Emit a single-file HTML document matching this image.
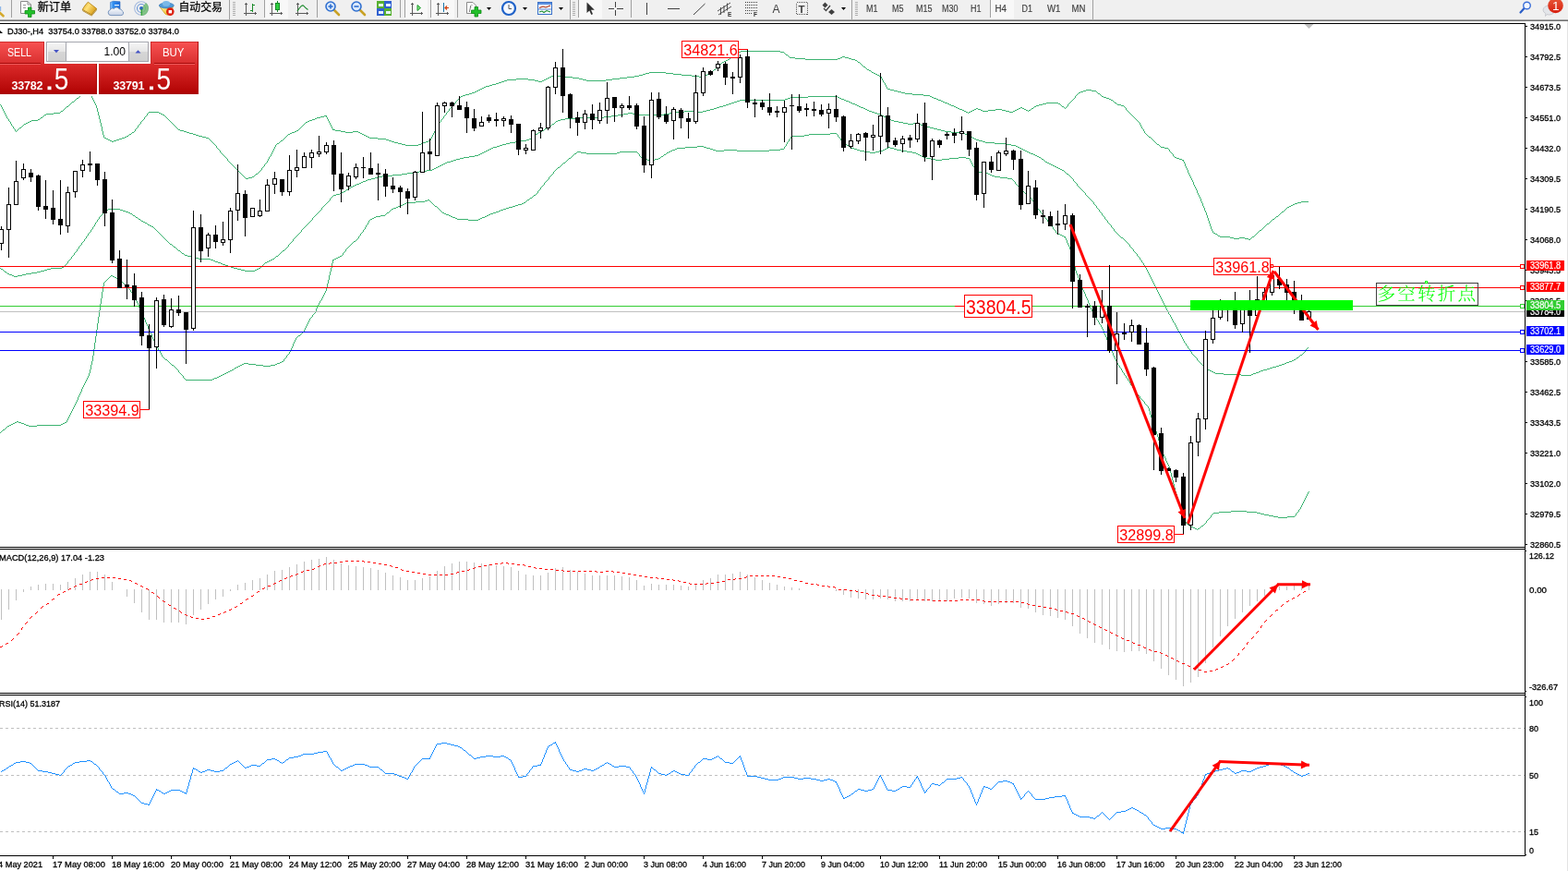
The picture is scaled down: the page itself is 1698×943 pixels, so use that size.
<!DOCTYPE html>
<html lang="zh"><head><meta charset="utf-8"><title>DJ30-,H4</title>
<style>
html,body{margin:0;padding:0;background:#fff;}
body{width:1698px;height:943px;overflow:hidden;position:relative;font-family:'Liberation Sans','Noto Sans CJK SC',sans-serif;}
#ch{position:absolute;left:0;top:0;width:1698px;height:943px;}
svg text{white-space:pre;}
</style></head><body>
<svg id="ch" width="1698" height="943" viewBox="0 0 1698 943">
<defs><clipPath id="cpb"><rect x="1653" y="336" width="41" height="7"/></clipPath></defs>
<g shape-rendering="crispEdges">
<rect x="0" y="0" width="1698" height="21" fill="#f0f0f0"/>
<rect x="0" y="21" width="1698" height="1" fill="#a6a6a6"/>
<rect x="0" y="22" width="1698" height="1" fill="#707070"/>
<rect x="0" y="23" width="1698" height="2" fill="#ffffff"/>
</g>
<rect x="287" y="0" width="25" height="20" fill="#f8f8f8" shape-rendering="crispEdges"/>
<rect x="438" y="0" width="25" height="20" fill="#f8f8f8" shape-rendering="crispEdges"/>
<rect x="467" y="0" width="25" height="20" fill="#f8f8f8" shape-rendering="crispEdges"/>
<rect x="627" y="0" width="25" height="20" fill="#f8f8f8" shape-rendering="crispEdges"/>
<rect x="1073" y="0" width="25" height="20" fill="#f8f8f8" shape-rendering="crispEdges"/>
<rect x="12" y="0" width="1" height="19" fill="#a0a0a0" shape-rendering="crispEdges"/>
<rect x="286" y="0" width="1" height="19" fill="#a0a0a0" shape-rendering="crispEdges"/>
<rect x="343" y="0" width="1" height="19" fill="#a0a0a0" shape-rendering="crispEdges"/>
<rect x="433" y="0" width="1" height="19" fill="#a0a0a0" shape-rendering="crispEdges"/>
<rect x="438" y="0" width="1" height="19" fill="#a0a0a0" shape-rendering="crispEdges"/>
<rect x="466" y="0" width="1" height="19" fill="#a0a0a0" shape-rendering="crispEdges"/>
<rect x="495" y="0" width="1" height="19" fill="#a0a0a0" shape-rendering="crispEdges"/>
<rect x="626" y="0" width="1" height="19" fill="#a0a0a0" shape-rendering="crispEdges"/>
<rect x="683" y="0" width="1" height="19" fill="#a0a0a0" shape-rendering="crispEdges"/>
<rect x="1072" y="0" width="1" height="19" fill="#a0a0a0" shape-rendering="crispEdges"/>
<rect x="248" y="0" width="1" height="21" fill="#a0a0a0" shape-rendering="crispEdges"/>
<rect x="617" y="0" width="1" height="21" fill="#a0a0a0" shape-rendering="crispEdges"/>
<rect x="922" y="0" width="1" height="21" fill="#a0a0a0" shape-rendering="crispEdges"/>
<rect x="1183" y="0" width="1" height="21" fill="#a0a0a0" shape-rendering="crispEdges"/>
<rect x="252" y="2" width="3" height="1" fill="#b0b0b0" shape-rendering="crispEdges"/>
<rect x="252" y="4" width="3" height="1" fill="#b0b0b0" shape-rendering="crispEdges"/>
<rect x="252" y="6" width="3" height="1" fill="#b0b0b0" shape-rendering="crispEdges"/>
<rect x="252" y="8" width="3" height="1" fill="#b0b0b0" shape-rendering="crispEdges"/>
<rect x="252" y="10" width="3" height="1" fill="#b0b0b0" shape-rendering="crispEdges"/>
<rect x="252" y="12" width="3" height="1" fill="#b0b0b0" shape-rendering="crispEdges"/>
<rect x="252" y="14" width="3" height="1" fill="#b0b0b0" shape-rendering="crispEdges"/>
<rect x="252" y="16" width="3" height="1" fill="#b0b0b0" shape-rendering="crispEdges"/>
<rect x="620" y="2" width="3" height="1" fill="#b0b0b0" shape-rendering="crispEdges"/>
<rect x="620" y="4" width="3" height="1" fill="#b0b0b0" shape-rendering="crispEdges"/>
<rect x="620" y="6" width="3" height="1" fill="#b0b0b0" shape-rendering="crispEdges"/>
<rect x="620" y="8" width="3" height="1" fill="#b0b0b0" shape-rendering="crispEdges"/>
<rect x="620" y="10" width="3" height="1" fill="#b0b0b0" shape-rendering="crispEdges"/>
<rect x="620" y="12" width="3" height="1" fill="#b0b0b0" shape-rendering="crispEdges"/>
<rect x="620" y="14" width="3" height="1" fill="#b0b0b0" shape-rendering="crispEdges"/>
<rect x="620" y="16" width="3" height="1" fill="#b0b0b0" shape-rendering="crispEdges"/>
<rect x="926" y="2" width="3" height="1" fill="#b0b0b0" shape-rendering="crispEdges"/>
<rect x="926" y="4" width="3" height="1" fill="#b0b0b0" shape-rendering="crispEdges"/>
<rect x="926" y="6" width="3" height="1" fill="#b0b0b0" shape-rendering="crispEdges"/>
<rect x="926" y="8" width="3" height="1" fill="#b0b0b0" shape-rendering="crispEdges"/>
<rect x="926" y="10" width="3" height="1" fill="#b0b0b0" shape-rendering="crispEdges"/>
<rect x="926" y="12" width="3" height="1" fill="#b0b0b0" shape-rendering="crispEdges"/>
<rect x="926" y="14" width="3" height="1" fill="#b0b0b0" shape-rendering="crispEdges"/>
<rect x="926" y="16" width="3" height="1" fill="#b0b0b0" shape-rendering="crispEdges"/>
<line x1="-1" y1="13" x2="3.5" y2="17.3" stroke="#d4a92c" stroke-width="2.6" stroke-linecap="round"/>
<rect x="0" y="7" width="1.2" height="5" fill="#8fb8ea"/>
<path d="M22.5 1.5 L30 1.5 L33.5 5 L33.5 14.5 L22.5 14.5 Z" fill="#fdfdfd" stroke="#8a8a8a" stroke-width="1"/>
<path d="M30 1.5 L30 5 L33.5 5" fill="none" stroke="#8a8a8a" stroke-width="1"/>
<path d="M25 5.5 H28 M25 8.5 H28" stroke="#9a9a9a" stroke-width="1"/>
<path d="M30.5 8 h3.5 v3.5 h3.5 v3.5 h-3.5 v3.5 h-3.5 v-3.5 h-3.5 v-3.5 h3.5 Z" fill="#22c02a" stroke="#0d8a14" stroke-width="0.8"/>
<text x="40.7" y="12.3" font-size="12.3" style="font-family:'Liberation Sans','Noto Sans CJK SC',sans-serif" fill="#000" stroke="#000" stroke-width="0.25" textLength="36.5" lengthAdjust="spacingAndGlyphs">新订单</text>
<defs><linearGradient id="gbk" x1="0" y1="0" x2="1" y2="0.6"><stop offset="0" stop-color="#d9a21c"/><stop offset="0.45" stop-color="#ffe27a"/><stop offset="1" stop-color="#d79a14"/></linearGradient></defs>
<path d="M89.3 10.3 Q91.5 6 95.3 2.2 L104.6 9.3 L99 16 Z" fill="url(#gbk)" stroke="#b07c0a" stroke-width="0.8"/>
<path d="M89.3 10.3 L99 16 L104.6 9.3 L104.8 11 L99.2 17.6 L89.6 12 Z" fill="#9a6a08"/>
<path d="M90 11.3 L99.1 16.8 L104.4 10.3" fill="none" stroke="#f4dc90" stroke-width="0.6"/>
<defs><linearGradient id="gsv" x1="0" y1="0" x2="1" y2="0"><stop offset="0" stop-color="#8cc8ff"/><stop offset="0.3" stop-color="#2f8cf0"/><stop offset="1" stop-color="#1e6ad8"/></linearGradient>
<linearGradient id="gcl" x1="0" y1="0" x2="0" y2="1"><stop offset="0" stop-color="#ffffff"/><stop offset="1" stop-color="#c4d0e4"/></linearGradient></defs>
<path d="M119.5 2.5 L122.5 1.3 L130 1.8 L130 10.5 L119.5 10.5 Z" fill="url(#gsv)" stroke="#2a6ac0" stroke-width="0.6"/>
<rect x="124" y="5" width="5" height="1.2" fill="#e8f4ff"/>
<path d="M120 16.6 a3 3 0 0 1 -0.6 -5.9 a2.6 2.6 0 0 1 4 -1.2 a3.4 3.4 0 0 1 5.8 0.4 a2.6 2.6 0 0 1 3 1.8 a2.6 2.6 0 0 1 -1.4 4.9 Z" fill="url(#gcl)" stroke="#6e8cb8" stroke-width="0.9"/>
<circle cx="153" cy="9" r="7.3" fill="none" stroke="#a4bade" stroke-width="1.1"/>
<circle cx="153" cy="9" r="4.5" fill="none" stroke="#6a96d8" stroke-width="1.1"/>
<path d="M153 9 L153 16.9 A7.9 7.9 0 0 0 158 2.9 Z" fill="#6cba6c" opacity="0.8"/>
<circle cx="153" cy="9" r="1.9" fill="#2a62c8"/>
<rect x="152.6" y="9.5" width="1.2" height="7.2" fill="#28a028"/>
<defs><linearGradient id="gat" x1="0" y1="0" x2="1" y2="1"><stop offset="0" stop-color="#fff6a0"/><stop offset="1" stop-color="#e8b010"/></linearGradient></defs>
<path d="M173.2 7.5 L187.5 7.5 L181.5 16.3 L179 15.2 Z" fill="url(#gat)" stroke="#c8980c" stroke-width="0.7"/>
<ellipse cx="180.3" cy="6" rx="8" ry="2.9" fill="#4f9ad8" stroke="#3a78b8" stroke-width="0.7"/>
<ellipse cx="180" cy="3.9" rx="4.2" ry="2.9" fill="#7ab8e8"/>
<circle cx="184.3" cy="12.6" r="4.3" fill="#dc2010"/>
<rect x="182.6" y="11" width="3.5" height="3.4" fill="#fff"/>
<text x="193.5" y="12.3" font-size="12.3" style="font-family:'Liberation Sans','Noto Sans CJK SC',sans-serif" fill="#000" stroke="#000" stroke-width="0.25" textLength="47.5" lengthAdjust="spacingAndGlyphs">自动交易</text>
<g fill="#5a5a5a" shape-rendering="crispEdges">
<rect x="266" y="3" width="1" height="14"/>
<rect x="264" y="14" width="14" height="1"/>
<rect x="265" y="4" width="3" height="1"/>
<rect x="276" y="13" width="1" height="3"/>
</g>
<g shape-rendering="crispEdges" fill="#1a8a2a"><rect x="273" y="4" width="1" height="9"/><rect x="271" y="11" width="2" height="1"/><rect x="274" y="5" width="2" height="1"/></g>
<g fill="#5a5a5a" shape-rendering="crispEdges">
<rect x="294" y="3" width="1" height="14"/>
<rect x="292" y="14" width="14" height="1"/>
<rect x="293" y="4" width="3" height="1"/>
<rect x="304" y="13" width="1" height="3"/>
</g>
<line x1="300.5" y1="1" x2="300.5" y2="13" stroke="#1a8a2a" stroke-width="1"/>
<rect x="298.5" y="3.5" width="4" height="7" fill="#30d040" stroke="#1a8a2a" stroke-width="1"/>
<g fill="#5a5a5a" shape-rendering="crispEdges">
<rect x="322" y="3" width="1" height="14"/>
<rect x="320" y="14" width="14" height="1"/>
<rect x="321" y="4" width="3" height="1"/>
<rect x="332" y="13" width="1" height="3"/>
</g>
<path d="M322 12 Q327 4 329 6.5 T333.5 10.5" stroke="#1a8a2a" stroke-width="1.2" fill="none"/>
<line x1="361.5" y1="10.5" x2="367" y2="16" stroke="#c9a227" stroke-width="2.6" stroke-linecap="round"/>
<circle cx="358" cy="7" r="5" fill="#dbeafc" stroke="#2f6fd0" stroke-width="1.6"/>
<line x1="355.5" y1="7" x2="360.5" y2="7" stroke="#2f6fd0" stroke-width="1.6"/>
<line x1="358" y1="4.5" x2="358" y2="9.5" stroke="#2f6fd0" stroke-width="1.6"/>
<line x1="389.5" y1="10.5" x2="395" y2="16" stroke="#c9a227" stroke-width="2.6" stroke-linecap="round"/>
<circle cx="386" cy="7" r="5" fill="#dbeafc" stroke="#2f6fd0" stroke-width="1.6"/>
<line x1="383.5" y1="7" x2="388.5" y2="7" stroke="#2f6fd0" stroke-width="1.6"/>
<g shape-rendering="crispEdges">
<rect x="408" y="1" width="8" height="8" fill="#58b030"/><rect x="416" y="1" width="8" height="8" fill="#3060d0"/>
<rect x="408" y="9" width="8" height="8" fill="#3060d0"/><rect x="416" y="9" width="8" height="8" fill="#58b030"/>
<rect x="410" y="4" width="5" height="3" fill="#e8f4ff"/>
<rect x="418" y="4" width="5" height="3" fill="#e8f4ff"/>
<rect x="410" y="12" width="5" height="3" fill="#e8f4ff"/>
<rect x="418" y="12" width="5" height="3" fill="#e8f4ff"/>
</g>
<g fill="#5a5a5a" shape-rendering="crispEdges">
<rect x="446" y="3" width="1" height="14"/>
<rect x="444" y="14" width="14" height="1"/>
<rect x="445" y="4" width="3" height="1"/>
<rect x="456" y="13" width="1" height="3"/>
</g>
<path d="M452 5.5 L455.5 8.5 L452 11.5 Z" fill="#80e080" stroke="#1a9a2a" stroke-width="1"/>
<g fill="#5a5a5a" shape-rendering="crispEdges">
<rect x="474" y="3" width="1" height="14"/>
<rect x="472" y="14" width="14" height="1"/>
<rect x="473" y="4" width="3" height="1"/>
<rect x="484" y="13" width="1" height="3"/>
</g>
<rect x="480" y="3" width="1" height="10" fill="#1874a8" shape-rendering="crispEdges"/>
<path d="M486 8.5 H482 M484 6.5 L482 8.5 L484 10.5" stroke="#d04010" stroke-width="1.2" fill="none"/>
<path d="M505.5 2.5 L512 2.5 L515.5 6 L515.5 14.5 L505.5 14.5 Z" fill="#fdfdfd" stroke="#8a8a8a"/>
<text x="508" y="11" font-size="9" font-style="italic" style="font-family:'Liberation Serif',serif" fill="#555">f</text>
<path d="M514 7.5 h3.5 v3.5 h3.5 v3.5 h-3.5 v3.5 h-3.5 v-3.5 h-3.5 v-3.5 h3.5 Z" fill="#22c02a" stroke="#0d8a14" stroke-width="0.8"/>
<path d="M527 8 L532 8 L529.5 11 Z" fill="#000"/>
<circle cx="551" cy="9" r="7" fill="#f4f8ff" stroke="#1f62c8" stroke-width="2.2"/>
<path d="M551 5 V9.5 H554" stroke="#555" stroke-width="1" fill="none"/>
<path d="M566 8 L571 8 L568.5 11 Z" fill="#000"/>
<rect x="582.5" y="2.5" width="15" height="13" fill="#f4f8ff" stroke="#3a70c8" stroke-width="1"/>
<rect x="583" y="3" width="14" height="2" fill="#5a90e0"/>
<path d="M584 8.5 L588 7 L591 8 L596 6" stroke="#b03010" stroke-width="1.1" fill="none"/>
<path d="M584 13 L587 12 L589 13.5 L592 11.5 L596 13" stroke="#209030" stroke-width="1.1" fill="none"/>
<line x1="583" y1="10" x2="597" y2="10" stroke="#3a70c8" stroke-width="0.8"/>
<path d="M605 8 L610 8 L607.5 11 Z" fill="#000"/>
<path d="M635.5 2.5 L635.5 14 L638.3 11.5 L640.3 16 L642 15.2 L640 10.8 L643.8 10.8 Z" fill="#303030"/>
<g shape-rendering="crispEdges" fill="#404040"><rect x="666" y="2" width="1" height="6"/><rect x="666" y="11" width="1" height="6"/><rect x="659" y="9" width="6" height="1"/><rect x="668" y="9" width="7" height="1"/></g>
<g shape-rendering="crispEdges" fill="#404040"><rect x="700" y="3" width="1" height="13"/><rect x="723" y="9" width="13" height="1"/></g>
<line x1="751" y1="16" x2="763.5" y2="4" stroke="#404040" stroke-width="1"/>
<path d="M777 12 L791 3 M778 16 L792 7 M780.5 8 V16 M784 6 V14 M787.5 3.5 V11.5" stroke="#404040" stroke-width="0.9" fill="none"/>
<text x="788" y="18" font-size="6.5" font-weight="bold" style="font-family:'Liberation Sans','Noto Sans CJK SC',sans-serif" fill="#303030">E</text>
<line x1="806.5" y1="2.5" x2="819.5" y2="2.5" stroke="#404040" stroke-width="1" stroke-dasharray="1 1" shape-rendering="crispEdges"/>
<line x1="806.5" y1="5.5" x2="819.5" y2="5.5" stroke="#404040" stroke-width="1" stroke-dasharray="1 1" shape-rendering="crispEdges"/>
<line x1="806.5" y1="8.5" x2="819.5" y2="8.5" stroke="#404040" stroke-width="1" stroke-dasharray="1 1" shape-rendering="crispEdges"/>
<line x1="806.5" y1="11.5" x2="819.5" y2="11.5" stroke="#404040" stroke-width="1" stroke-dasharray="1 1" shape-rendering="crispEdges"/>
<line x1="806.5" y1="14.5" x2="815" y2="14.5" stroke="#404040" stroke-width="1" stroke-dasharray="1 1" shape-rendering="crispEdges"/>
<text x="816" y="18" font-size="6.5" font-weight="bold" style="font-family:'Liberation Sans','Noto Sans CJK SC',sans-serif" fill="#303030">F</text>
<text x="836.5" y="13.5" font-size="12" style="font-family:'Liberation Sans','Noto Sans CJK SC',sans-serif" fill="#404040">A</text>
<rect x="862.5" y="2.5" width="12" height="13" fill="none" stroke="#505050" stroke-width="1" stroke-dasharray="1 1" shape-rendering="crispEdges"/>
<text x="864.5" y="13.5" font-size="11.5" font-weight="bold" style="font-family:'Liberation Sans','Noto Sans CJK SC',sans-serif" fill="#404040">T</text>
<path d="M893.5 2.5 L896.5 5.5 L893.5 8.5 L890.5 5.5 Z M900.5 10 L904 13 L900.5 16 L897 13 Z" fill="#404040"/>
<path d="M892 9 L894.5 11.5 L899 6" stroke="#404040" stroke-width="1.2" fill="none"/>
<path d="M911 8 L916 8 L913.5 11 Z" fill="#000"/>
<g style="font-family:'Liberation Sans','Noto Sans CJK SC',sans-serif" font-size="10" fill="#404040" stroke="#404040" stroke-width="0.15">
<text x="938" y="12.8" textLength="12.5" lengthAdjust="spacingAndGlyphs">M1</text>
<text x="966" y="12.8" textLength="12.5" lengthAdjust="spacingAndGlyphs">M5</text>
<text x="992" y="12.8" textLength="17.5" lengthAdjust="spacingAndGlyphs">M15</text>
<text x="1020" y="12.8" textLength="17.5" lengthAdjust="spacingAndGlyphs">M30</text>
<text x="1051" y="12.8" textLength="11.5" lengthAdjust="spacingAndGlyphs">H1</text>
<text x="1077.5" y="12.8" textLength="12.5" lengthAdjust="spacingAndGlyphs">H4</text>
<text x="1106.5" y="12.8" textLength="11.5" lengthAdjust="spacingAndGlyphs">D1</text>
<text x="1134" y="12.8" textLength="14.5" lengthAdjust="spacingAndGlyphs">W1</text>
<text x="1160.5" y="12.8" textLength="15" lengthAdjust="spacingAndGlyphs">MN</text>
</g>
<line x1="1646.5" y1="13.5" x2="1651" y2="8.5" stroke="#2a5ec8" stroke-width="2.2" stroke-linecap="round"/>
<circle cx="1653.5" cy="6" r="3.8" fill="#f4f8ff" stroke="#3a6ed8" stroke-width="1.4"/>
<path d="M1671 11 a6.5 5 0 1 1 4 4.6 L1673.5 17.5 L1673.8 14.6 a6 5 0 0 1 -2.8 -3.6 Z" fill="#e4e6ea" stroke="#c0c2c8" stroke-width="0.8"/>
<defs><linearGradient id="gr" x1="0" y1="0" x2="0" y2="1"><stop offset="0" stop-color="#e85838"/><stop offset="1" stop-color="#d82010"/></linearGradient></defs>
<circle cx="1684.5" cy="6" r="8.3" fill="url(#gr)"/>
<text x="1681" y="11" font-size="13.5" style="font-family:'Liberation Sans','Noto Sans CJK SC',sans-serif" fill="#fff">1</text>
<g shape-rendering="crispEdges">
<rect x="0" y="25" width="1652" height="1" fill="#000"/>
<rect x="1651" y="25" width="1" height="902" fill="#000"/>
<rect x="0" y="592" width="1652" height="1" fill="#000"/>
<rect x="0" y="594" width="1652" height="1" fill="#000"/>
<rect x="0" y="750" width="1652" height="1" fill="#000"/>
<rect x="0" y="752" width="1652" height="1" fill="#000"/>
<rect x="0" y="926" width="1652" height="1" fill="#000"/>
<rect x="1652" y="596" width="1" height="1" fill="#000"/>
<rect x="1652" y="748" width="1" height="1" fill="#000"/>
<rect x="1652" y="754" width="1" height="1" fill="#000"/>
<rect x="1652" y="925" width="1" height="1" fill="#000"/>
<rect x="1697" y="23" width="1" height="920" fill="#e3e3e3"/>
</g>
<g shape-rendering="crispEdges" fill="#c0c0c0">
<rect x="1" y="638" width="1" height="33"/>
<rect x="9" y="638" width="1" height="22"/>
<rect x="17" y="638" width="1" height="12"/>
<rect x="25" y="638" width="1" height="3"/>
<rect x="33" y="635" width="1" height="4"/>
<rect x="41" y="633" width="1" height="6"/>
<rect x="49" y="632" width="1" height="7"/>
<rect x="57" y="632" width="1" height="7"/>
<rect x="65" y="633" width="1" height="6"/>
<rect x="73" y="630" width="1" height="9"/>
<rect x="81" y="626" width="1" height="13"/>
<rect x="89" y="622" width="1" height="17"/>
<rect x="97" y="619" width="1" height="20"/>
<rect x="105" y="619" width="1" height="20"/>
<rect x="113" y="622" width="1" height="17"/>
<rect x="121" y="630" width="1" height="9"/>
<rect x="137" y="638" width="1" height="8"/>
<rect x="145" y="638" width="1" height="15"/>
<rect x="153" y="638" width="1" height="25"/>
<rect x="161" y="638" width="1" height="33"/>
<rect x="169" y="638" width="1" height="33"/>
<rect x="177" y="638" width="1" height="36"/>
<rect x="185" y="638" width="1" height="36"/>
<rect x="193" y="638" width="1" height="36"/>
<rect x="201" y="638" width="1" height="38"/>
<rect x="209" y="638" width="1" height="28"/>
<rect x="217" y="638" width="1" height="22"/>
<rect x="225" y="638" width="1" height="16"/>
<rect x="233" y="638" width="1" height="11"/>
<rect x="241" y="638" width="1" height="8"/>
<rect x="249" y="638" width="1" height="2"/>
<rect x="257" y="633" width="1" height="6"/>
<rect x="265" y="631" width="1" height="8"/>
<rect x="273" y="628" width="1" height="11"/>
<rect x="281" y="626" width="1" height="13"/>
<rect x="289" y="622" width="1" height="17"/>
<rect x="297" y="618" width="1" height="21"/>
<rect x="305" y="617" width="1" height="22"/>
<rect x="313" y="614" width="1" height="25"/>
<rect x="321" y="611" width="1" height="28"/>
<rect x="329" y="608" width="1" height="31"/>
<rect x="337" y="606" width="1" height="33"/>
<rect x="345" y="605" width="1" height="34"/>
<rect x="353" y="603" width="1" height="36"/>
<rect x="361" y="606" width="1" height="33"/>
<rect x="369" y="610" width="1" height="29"/>
<rect x="377" y="612" width="1" height="27"/>
<rect x="385" y="613" width="1" height="26"/>
<rect x="393" y="614" width="1" height="25"/>
<rect x="401" y="615" width="1" height="24"/>
<rect x="409" y="617" width="1" height="22"/>
<rect x="417" y="620" width="1" height="19"/>
<rect x="425" y="623" width="1" height="16"/>
<rect x="433" y="625" width="1" height="14"/>
<rect x="441" y="628" width="1" height="11"/>
<rect x="449" y="628" width="1" height="11"/>
<rect x="457" y="626" width="1" height="13"/>
<rect x="465" y="624" width="1" height="15"/>
<rect x="473" y="618" width="1" height="21"/>
<rect x="481" y="613" width="1" height="26"/>
<rect x="489" y="610" width="1" height="29"/>
<rect x="497" y="608" width="1" height="31"/>
<rect x="505" y="608" width="1" height="31"/>
<rect x="513" y="609" width="1" height="30"/>
<rect x="521" y="610" width="1" height="29"/>
<rect x="529" y="611" width="1" height="28"/>
<rect x="537" y="612" width="1" height="27"/>
<rect x="545" y="613" width="1" height="26"/>
<rect x="553" y="614" width="1" height="25"/>
<rect x="561" y="618" width="1" height="21"/>
<rect x="569" y="622" width="1" height="17"/>
<rect x="577" y="623" width="1" height="16"/>
<rect x="585" y="623" width="1" height="16"/>
<rect x="593" y="620" width="1" height="19"/>
<rect x="601" y="615" width="1" height="24"/>
<rect x="609" y="614" width="1" height="25"/>
<rect x="617" y="617" width="1" height="22"/>
<rect x="625" y="619" width="1" height="20"/>
<rect x="633" y="621" width="1" height="18"/>
<rect x="641" y="623" width="1" height="16"/>
<rect x="649" y="623" width="1" height="16"/>
<rect x="657" y="623" width="1" height="16"/>
<rect x="665" y="623" width="1" height="16"/>
<rect x="673" y="624" width="1" height="15"/>
<rect x="681" y="625" width="1" height="14"/>
<rect x="689" y="628" width="1" height="11"/>
<rect x="697" y="634" width="1" height="5"/>
<rect x="705" y="632" width="1" height="7"/>
<rect x="713" y="633" width="1" height="6"/>
<rect x="721" y="633" width="1" height="6"/>
<rect x="729" y="633" width="1" height="6"/>
<rect x="737" y="634" width="1" height="5"/>
<rect x="745" y="635" width="1" height="4"/>
<rect x="753" y="632" width="1" height="7"/>
<rect x="761" y="628" width="1" height="11"/>
<rect x="769" y="626" width="1" height="13"/>
<rect x="777" y="622" width="1" height="17"/>
<rect x="785" y="622" width="1" height="17"/>
<rect x="793" y="621" width="1" height="18"/>
<rect x="801" y="619" width="1" height="20"/>
<rect x="809" y="622" width="1" height="17"/>
<rect x="817" y="625" width="1" height="14"/>
<rect x="825" y="628" width="1" height="11"/>
<rect x="833" y="631" width="1" height="8"/>
<rect x="841" y="633" width="1" height="6"/>
<rect x="849" y="635" width="1" height="4"/>
<rect x="857" y="636" width="1" height="3"/>
<rect x="865" y="637" width="1" height="2"/>
<rect x="905" y="638" width="1" height="2"/>
<rect x="913" y="638" width="1" height="6"/>
<rect x="921" y="638" width="1" height="9"/>
<rect x="929" y="638" width="1" height="10"/>
<rect x="937" y="638" width="1" height="11"/>
<rect x="945" y="638" width="1" height="11"/>
<rect x="953" y="638" width="1" height="10"/>
<rect x="961" y="638" width="1" height="11"/>
<rect x="969" y="638" width="1" height="13"/>
<rect x="977" y="638" width="1" height="13"/>
<rect x="985" y="638" width="1" height="13"/>
<rect x="993" y="638" width="1" height="11"/>
<rect x="1001" y="638" width="1" height="13"/>
<rect x="1009" y="638" width="1" height="13"/>
<rect x="1017" y="638" width="1" height="13"/>
<rect x="1025" y="638" width="1" height="13"/>
<rect x="1033" y="638" width="1" height="10"/>
<rect x="1041" y="638" width="1" height="9"/>
<rect x="1049" y="638" width="1" height="10"/>
<rect x="1057" y="638" width="1" height="15"/>
<rect x="1065" y="638" width="1" height="16"/>
<rect x="1073" y="638" width="1" height="18"/>
<rect x="1081" y="638" width="1" height="16"/>
<rect x="1089" y="638" width="1" height="15"/>
<rect x="1097" y="638" width="1" height="15"/>
<rect x="1105" y="638" width="1" height="20"/>
<rect x="1113" y="638" width="1" height="21"/>
<rect x="1121" y="638" width="1" height="25"/>
<rect x="1129" y="638" width="1" height="28"/>
<rect x="1137" y="638" width="1" height="29"/>
<rect x="1145" y="638" width="1" height="31"/>
<rect x="1153" y="638" width="1" height="33"/>
<rect x="1161" y="638" width="1" height="40"/>
<rect x="1169" y="638" width="1" height="48"/>
<rect x="1177" y="638" width="1" height="53"/>
<rect x="1185" y="638" width="1" height="58"/>
<rect x="1193" y="638" width="1" height="60"/>
<rect x="1201" y="638" width="1" height="65"/>
<rect x="1209" y="638" width="1" height="67"/>
<rect x="1217" y="638" width="1" height="68"/>
<rect x="1225" y="638" width="1" height="67"/>
<rect x="1233" y="638" width="1" height="67"/>
<rect x="1241" y="638" width="1" height="70"/>
<rect x="1249" y="638" width="1" height="78"/>
<rect x="1257" y="638" width="1" height="86"/>
<rect x="1265" y="638" width="1" height="93"/>
<rect x="1273" y="638" width="1" height="98"/>
<rect x="1281" y="638" width="1" height="105"/>
<rect x="1289" y="638" width="1" height="101"/>
<rect x="1297" y="638" width="1" height="95"/>
<rect x="1305" y="638" width="1" height="80"/>
<rect x="1313" y="638" width="1" height="63"/>
<rect x="1321" y="638" width="1" height="51"/>
<rect x="1329" y="638" width="1" height="40"/>
<rect x="1337" y="638" width="1" height="32"/>
<rect x="1345" y="638" width="1" height="25"/>
<rect x="1353" y="638" width="1" height="18"/>
<rect x="1361" y="638" width="1" height="13"/>
<rect x="1369" y="638" width="1" height="7"/>
<rect x="1377" y="638" width="1" height="2"/>
<rect x="1385" y="635" width="1" height="4"/>
<rect x="1393" y="635" width="1" height="4"/>
<rect x="1401" y="634" width="1" height="5"/>
<rect x="1409" y="633" width="1" height="6"/>
<rect x="1417" y="632" width="1" height="7"/>
</g>
<path d="M944 644h3v1h-3zM1304 727h3v1h-3zM1106 652h3v1h-3zM81 634h2v1h-2zM152 634h2v1h-2zM290 634h3v1h-3zM890 634h3v1h-3zM452 620h3v1h-3zM674 620h3v1h-3zM315 623h2v1h-2zM692 623h3v1h-3zM812 623h3v1h-3zM818 623h3v1h-3zM824 623h3v1h-3zM830 623h3v1h-3zM836 623h3v1h-3zM735 629h2v1h-2zM782 629h3v1h-3zM866 629h3v1h-3zM183 655h2v1h-2zM1118 655h3v1h-3zM272 645h2v1h-2zM951 645h2v1h-2zM956 645h3v1h-3zM254 657h2v1h-2zM1130 657h3v1h-3zM920 639h3v1h-3zM188 658h2v1h-2zM1136 658h3v1h-3zM326 619h2v1h-2zM446 619h3v1h-3zM495 619h2v1h-2zM650 619h3v1h-3zM668 619h3v1h-3zM110 625h3v1h-3zM116 625h3v1h-3zM122 625h3v1h-3zM704 625h3v1h-3zM710 625h2v1h-2zM806 625h2v1h-2zM848 625h3v1h-3zM1215 691h2v1h-2zM368 608h3v1h-3zM398 608h3v1h-3zM440 618h3v1h-3zM500 618h3v1h-3zM614 618h3v1h-3zM620 618h3v1h-3zM626 618h3v1h-3zM632 618h3v1h-3zM638 618h3v1h-3zM644 618h2v1h-2zM656 618h3v1h-3zM662 618h2v1h-2zM962 646h3v1h-3zM75 637h2v1h-2zM158 637h2v1h-2zM284 637h2v1h-2zM1142 659h2v1h-2zM86 632h3v1h-3zM747 632h2v1h-2zM752 632h3v1h-3zM758 632h3v1h-3zM878 632h3v1h-3zM1010 650h3v1h-3zM1016 650h3v1h-3zM1022 650h3v1h-3zM1028 650h3v1h-3zM1034 650h3v1h-3zM1064 650h2v1h-2zM374 607h3v1h-3zM380 607h3v1h-3zM386 607h3v1h-3zM392 607h2v1h-2zM332 617h3v1h-3zM435 617h2v1h-2zM506 617h2v1h-2zM602 617h3v1h-3zM608 617h2v1h-2zM1310 726h3v1h-3zM422 612h2v1h-2zM524 612h3v1h-3zM1203 685h2v1h-2zM1232 698h3v1h-3zM1292 723h3v1h-3zM428 614h3v1h-3zM578 614h2v1h-2zM177 651h2v1h-2zM1070 651h3v1h-3zM1076 651h3v1h-3zM1082 651h3v1h-3zM1088 651h3v1h-3zM1094 651h3v1h-3zM1100 651h3v1h-3zM1393 651h2v1h-2zM968 647h3v1h-3zM1400 647h2v1h-2zM357 609h2v1h-2zM362 609h3v1h-3zM404 609h3v1h-3zM543 609h2v1h-2zM548 609h2v1h-2zM416 611h3v1h-3zM530 611h3v1h-3zM560 611h3v1h-3zM566 611h2v1h-2zM1322 722h2v1h-2zM212 669h3v1h-3zM224 669h3v1h-3zM1172 669h2v1h-2zM104 626h3v1h-3zM128 626h3v1h-3zM308 626h2v1h-2zM716 626h3v1h-3zM800 626h3v1h-3zM854 626h3v1h-3zM986 649h3v1h-3zM992 649h3v1h-3zM998 649h3v1h-3zM1004 649h3v1h-3zM1040 649h3v1h-3zM1046 649h3v1h-3zM1052 649h3v1h-3zM1058 649h3v1h-3zM57 648h2v1h-2zM267 648h2v1h-2zM975 648h2v1h-2zM980 648h3v1h-3zM938 642h2v1h-2zM512 615h2v1h-2zM584 615h3v1h-3zM164 641h2v1h-2zM932 641h3v1h-3zM99 627h2v1h-2zM134 627h3v1h-3zM722 627h3v1h-3zM788 627h3v1h-3zM794 627h2v1h-2zM321 621h2v1h-2zM458 621h3v1h-3zM488 621h3v1h-3zM680 621h3v1h-3zM1220 693h3v1h-3zM140 628h2v1h-2zM303 628h2v1h-2zM729 628h2v1h-2zM860 628h3v1h-3zM248 660h2v1h-2zM1382 660h2v1h-2zM1191 679h2v1h-2zM344 613h2v1h-2zM518 613h3v1h-3zM572 613h3v1h-3zM230 667h3v1h-3zM1167 667h2v1h-2zM1113 654h2v1h-2zM464 622h3v1h-3zM470 622h3v1h-3zM476 622h3v1h-3zM482 622h3v1h-3zM686 622h3v1h-3zM1239 701h2v1h-2zM1179 673h2v1h-2zM1244 703h2v1h-2zM1124 656h3v1h-3zM698 624h3v1h-3zM842 624h3v1h-3zM63 643h2v1h-2zM146 631h2v1h-2zM297 631h2v1h-2zM765 631h2v1h-2zM770 631h3v1h-3zM872 631h3v1h-3zM1160 664h3v1h-3zM338 616h2v1h-2zM590 616h3v1h-3zM596 616h3v1h-3zM200 665h2v1h-2zM236 665h2v1h-2zM351 610h2v1h-2zM410 610h3v1h-3zM536 610h3v1h-3zM554 610h3v1h-3zM1250 705h3v1h-3zM908 638h3v1h-3zM914 638h3v1h-3zM218 670h3v1h-3zM897 635h2v1h-2zM902 635h2v1h-2zM69 640h2v1h-2zM279 640h2v1h-2zM927 640h2v1h-2zM1412 640h2v1h-2zM1262 709h2v1h-2zM51 653h2v1h-2zM260 653h2v1h-2zM7 696h2v1h-2zM1227 696h2v1h-2zM1287 721h2v1h-2zM1257 707h2v1h-2zM243 662h2v1h-2zM1154 662h2v1h-2zM1148 661h3v1h-3zM207 668h2v1h-2zM1268 712h2v1h-2zM1280 718h3v1h-3zM1274 715h2v1h-2zM1298 725h3v1h-3zM92 630h2v1h-2zM740 630h3v1h-3zM776 630h3v1h-3zM1209 688h2v1h-2zM1317 724h2v1h-2zM1197 682h2v1h-2zM1185 676h2v1h-2zM0 700h2v1h-2zM1328 719h2v1h-2zM885 633h2v1h-2zM950 644h1v1h-1zM45 657h1v1h-1zM1365 678h1v2h-1zM262 652h1v1h-1zM328 618h1v1h-1zM808 624h1v1h-1zM1214 690h1v1h-1zM494 620h1v1h-1zM20 685h1v1h-1zM23 680h1v2h-1zM1350 696h1v2h-1zM274 644h1v1h-1zM1389 654h1v1h-1zM1178 672h1v1h-1zM1345 703h1v1h-1zM1112 653h1v1h-1zM171 646h1v1h-1zM190 659h1v1h-1zM1202 684h1v1h-1zM728 627h1v1h-1zM1388 655h1v1h-1zM646 619h1v1h-1zM1341 707h1v2h-1zM6 697h1v1h-1zM206 667h1v1h-1zM40 662h1v1h-1zM542 610h1v1h-1zM1381 661h1v1h-1zM1411 641h1v1h-1zM2 699h1v1h-1zM1190 678h1v1h-1zM14 691h1v1h-1zM166 642h1v1h-1zM1406 644h1v1h-1zM884 632h1v1h-1zM1324 721h1v1h-1zM1226 695h1v1h-1zM1066 651h1v1h-1zM310 625h1v1h-1zM346 612h1v1h-1zM1330 718h1v1h-1zM514 614h1v1h-1zM1336 713h1v1h-1zM1351 695h1v1h-1zM1196 681h1v1h-1zM266 649h1v1h-1zM195 662h1v1h-1zM1369 673h1v1h-1zM424 613h1v1h-1zM1334 715h1v1h-1zM1335 714h1v1h-1zM250 659h1v1h-1zM278 641h1v1h-1zM24 679h1v1h-1zM148 632h1v1h-1zM98 628h1v1h-1zM1366 677h1v1h-1zM256 656h1v1h-1zM394 608h1v1h-1zM286 636h1v1h-1zM734 628h1v1h-1zM320 622h1v1h-1zM196 663h1v1h-1zM350 611h1v1h-1zM1184 675h1v1h-1zM56 649h1v1h-1zM39 663h1v1h-1zM1208 687h1v1h-1zM34 667h1v1h-1zM182 654h1v1h-1zM1387 656h1v1h-1zM1144 660h1v1h-1zM68 641h1v1h-1zM1407 643h1v1h-1zM1399 648h1v1h-1zM32 669h1v1h-1zM33 668h1v1h-1zM796 626h1v1h-1zM1405 645h1v1h-1zM356 610h1v1h-1zM508 616h1v1h-1zM1347 701h1v1h-1zM29 673h1v1h-1zM1370 672h1v1h-1zM1377 665h1v1h-1zM1270 713h1v1h-1zM664 619h1v1h-1zM610 618h1v1h-1zM27 675h1v1h-1zM568 612h1v1h-1zM28 674h1v1h-1zM1156 663h1v1h-1zM1375 667h1v1h-1zM1376 666h1v1h-1zM1276 716h1v1h-1zM62 644h1v1h-1zM172 647h1v1h-1zM904 636h1v1h-1zM314 624h1v1h-1zM202 666h1v1h-1zM340 615h1v1h-1zM50 654h1v1h-1zM176 650h1v1h-1zM1264 710h1v1h-1zM1246 704h1v1h-1zM1238 700h1v1h-1zM38 664h1v1h-1zM1395 650h1v1h-1zM940 643h1v1h-1zM238 664h1v1h-1zM746 631h1v1h-1zM74 638h1v1h-1zM1346 702h1v1h-1zM974 647h1v1h-1zM13 692h1v1h-1zM712 626h1v1h-1zM142 629h1v1h-1zM170 645h1v1h-1zM44 658h1v1h-1zM296 632h1v1h-1zM1362 683h1v1h-1zM12 693h1v1h-1zM302 629h1v1h-1zM19 686h1v1h-1zM80 635h1v1h-1zM1360 685h1v1h-1zM1361 684h1v1h-1zM1316 725h1v1h-1zM18 687h1v1h-1zM1356 690h1v1h-1zM1357 689h1v1h-1zM242 663h1v1h-1zM1286 720h1v1h-1zM926 639h1v1h-1zM1355 691h1v1h-1zM764 632h1v1h-1zM1340 709h1v1h-1zM1166 666h1v1h-1zM1256 706h1v1h-1zM434 616h1v1h-1zM154 635h1v1h-1zM580 615h1v1h-1zM896 634h1v1h-1zM46 656h1v1h-1zM1174 670h1v1h-1zM1371 671h1v1h-1zM94 629h1v1h-1zM550 610h1v1h-1zM194 661h1v1h-1zM160 638h1v1h-1z" fill="#ff0000" shape-rendering="crispEdges"/>
<g shape-rendering="crispEdges">
<line x1="0" y1="788.5" x2="1651" y2="788.5" stroke="#c0c0c0" stroke-width="1" stroke-dasharray="3 3"/>
<line x1="0" y1="839.5" x2="1651" y2="839.5" stroke="#c0c0c0" stroke-width="1" stroke-dasharray="3 3"/>
<line x1="0" y1="900.5" x2="1651" y2="900.5" stroke="#c0c0c0" stroke-width="1" stroke-dasharray="3 3"/>
</g>
<path d="M102 827h2v1h-2zM249 827h2v1h-2zM384 827h11v1h-11zM660 827h2v1h-2zM1374 827h2v1h-2zM1382 827h5v1h-5zM52 836h4v1h-4zM217 836h2v1h-2zM733 836h2v1h-2zM1310 836h2v1h-2zM1339 836h3v1h-3zM1401 836h2v1h-2zM46 835h6v1h-6zM215 835h2v1h-2zM219 835h3v1h-3zM232 835h6v1h-6zM624 835h3v1h-3zM727 835h2v1h-2zM731 835h2v1h-2zM1312 835h4v1h-4zM1334 835h2v1h-2zM1342 835h2v1h-2zM1350 835h5v1h-5zM432 840h3v1h-3zM566 840h4v1h-4zM809 840h11v1h-11zM952 840h2v1h-2zM1409 840h2v1h-2zM60 838h4v1h-4zM427 838h3v1h-3zM716 838h4v1h-4zM722 838h2v1h-2zM737 838h5v1h-5zM1305 838h2v1h-2zM1405 838h2v1h-2zM1414 838h2v1h-2zM323 818h3v1h-3zM526 818h8v1h-8zM542 818h4v1h-4zM294 821h4v1h-4zM457 821h9v1h-9zM513 821h3v1h-3zM761 821h5v1h-5zM771 821h2v1h-2zM780 821h2v1h-2zM438 842h2v1h-2zM824 842h4v1h-4zM846 842h2v1h-2zM860 842h4v1h-4zM870 842h8v1h-8zM1036 842h4v1h-4zM169 855h3v1h-3zM185 855h10v1h-10zM932 855h4v1h-4zM940 855h4v1h-4zM961 855h5v1h-5zM970 855h2v1h-2zM122 854h2v1h-2zM929 854h3v1h-3zM944 854h2v1h-2zM972 854h2v1h-2zM1072 854h2v1h-2zM10 829h2v1h-2zM74 829h2v1h-2zM270 829h2v1h-2zM278 829h4v1h-4zM379 829h3v1h-3zM398 829h2v1h-2zM577 829h5v1h-5zM650 829h2v1h-2zM663 829h2v1h-2zM670 829h8v1h-8zM1368 829h3v1h-3zM1390 829h2v1h-2zM1276 899h2v1h-2zM209 832h3v1h-3zM373 832h2v1h-2zM632 832h4v1h-4zM645 832h2v1h-2zM1324 832h4v1h-4zM1330 832h2v1h-2zM1359 832h2v1h-2zM917 862h2v1h-2zM1142 862h8v1h-8zM440 843h2v1h-2zM828 843h4v1h-4zM843 843h3v1h-3zM864 843h6v1h-6zM878 843h6v1h-6zM896 843h3v1h-3zM1025 843h11v1h-11zM1167 883h2v1h-2zM1188 883h2v1h-2zM15 826h2v1h-2zM32 826h2v1h-2zM79 826h2v1h-2zM251 826h2v1h-2zM284 826h2v1h-2zM655 826h2v1h-2zM658 826h2v1h-2zM790 826h4v1h-4zM1376 826h6v1h-6zM1009 848h3v1h-3zM1096 848h2v1h-2zM2 834h2v1h-2zM41 834h5v1h-5zM222 834h2v1h-2zM228 834h4v1h-4zM238 834h4v1h-4zM369 834h2v1h-2zM620 834h4v1h-4zM627 834h3v1h-3zM640 834h3v1h-3zM729 834h2v1h-2zM1316 834h4v1h-4zM1344 834h6v1h-6zM1355 834h2v1h-2zM1398 834h2v1h-2zM289 822h5v1h-5zM298 822h2v1h-2zM310 822h2v1h-2zM551 822h2v1h-2zM766 822h5v1h-5zM22 824h6v1h-6zM86 824h8v1h-8zM98 824h2v1h-2zM255 824h2v1h-2zM328 816h12v1h-12zM832 844h11v1h-11zM884 844h4v1h-4zM892 844h4v1h-4zM899 844h3v1h-3zM267 830h3v1h-3zM364 830h2v1h-2zM377 830h2v1h-2zM400 830h10v1h-10zM665 830h5v1h-5zM678 830h4v1h-4zM1364 830h4v1h-4zM1392 830h2v1h-2zM1209 879h5v1h-5zM1234 879h2v1h-2zM126 857h2v1h-2zM181 857h2v1h-2zM197 857h2v1h-2zM1001 857h2v1h-2zM913 864h2v1h-2zM1105 864h2v1h-2zM1132 864h4v1h-4zM350 813h4v1h-4zM318 819h5v1h-5zM520 819h6v1h-6zM534 819h8v1h-8zM546 819h2v1h-2zM775 819h2v1h-2zM800 819h2v1h-2zM12 828h2v1h-2zM76 828h2v1h-2zM272 828h6v1h-6zM382 828h2v1h-2zM395 828h3v1h-3zM582 828h4v1h-4zM652 828h2v1h-2zM1371 828h3v1h-3zM1387 828h3v1h-3zM492 807h4v1h-4zM594 807h2v1h-2zM64 839h2v1h-2zM430 839h2v1h-2zM720 839h2v1h-2zM742 839h4v1h-4zM1407 839h2v1h-2zM1411 839h3v1h-3zM1214 878h5v1h-5zM435 841h3v1h-3zM561 841h5v1h-5zM820 841h4v1h-4zM848 841h12v1h-12zM992 841h2v1h-2zM1040 841h2v1h-2zM4 833h2v1h-2zM212 833h2v1h-2zM224 833h4v1h-4zM371 833h2v1h-2zM412 833h2v1h-2zM617 833h3v1h-3zM630 833h2v1h-2zM636 833h4v1h-4zM643 833h2v1h-2zM708 833h2v1h-2zM1320 833h4v1h-4zM1357 833h2v1h-2zM144 861h2v1h-2zM919 861h2v1h-2zM1150 861h4v1h-4zM156 870h4v1h-4zM1223 875h2v1h-2zM1227 875h2v1h-2zM134 858h5v1h-5zM175 858h2v1h-2zM179 858h2v1h-2zM199 858h3v1h-3zM915 863h2v1h-2zM1136 863h6v1h-6zM172 856h2v1h-2zM183 856h2v1h-2zM195 856h2v1h-2zM926 856h2v1h-2zM936 856h4v1h-4zM966 856h4v1h-4zM975 852h2v1h-2zM982 852h4v1h-4zM1067 852h3v1h-3zM1253 895h2v1h-2zM340 815h4v1h-4zM496 808h2v1h-2zM313 820h5v1h-5zM516 820h4v1h-4zM548 820h2v1h-2zM773 820h2v1h-2zM1251 894h2v1h-2zM1169 884h11v1h-11zM129 859h5v1h-5zM139 859h3v1h-3zM177 859h2v1h-2zM922 859h2v1h-2zM1279 901h3v1h-3zM1257 897h5v1h-5zM1270 897h4v1h-4zM904 846h2v1h-2zM1081 846h5v1h-5zM1091 846h3v1h-3zM17 825h5v1h-5zM28 825h4v1h-4zM81 825h5v1h-5zM253 825h2v1h-2zM303 825h2v1h-2zM306 825h2v1h-2zM756 825h2v1h-2zM785 825h5v1h-5zM94 823h4v1h-4zM300 823h2v1h-2zM56 837h4v1h-4zM417 837h10v1h-10zM713 837h3v1h-3zM724 837h2v1h-2zM735 837h2v1h-2zM1307 837h3v1h-3zM1337 837h2v1h-2zM1403 837h2v1h-2zM1416 837h2v1h-2zM326 817h2v1h-2zM508 817h2v1h-2zM888 845h4v1h-4zM902 845h2v1h-2zM1086 845h5v1h-5zM7 831h2v1h-2zM244 831h2v1h-2zM265 831h2v1h-2zM375 831h2v1h-2zM647 831h2v1h-2zM705 831h2v1h-2zM1328 831h2v1h-2zM1361 831h3v1h-3zM1394 831h2v1h-2zM1274 898h2v1h-2zM1121 865h11v1h-11zM344 814h6v1h-6zM1225 874h2v1h-2zM488 806h4v1h-4zM596 806h2v1h-2zM142 860h2v1h-2zM153 869h3v1h-3zM1249 893h2v1h-2zM498 809h2v1h-2zM1020 847h2v1h-2zM1094 847h2v1h-2zM473 805h5v1h-5zM484 805h4v1h-4zM1012 849h4v1h-4zM502 812h2v1h-2zM1161 880h2v1h-2zM1236 880h2v1h-2zM977 851h5v1h-5zM1065 851h2v1h-2zM1070 853h2v1h-2zM1016 850h2v1h-2zM1221 876h2v1h-2zM1229 876h2v1h-2zM1180 885h4v1h-4zM478 804h6v1h-6zM599 804h3v1h-3zM1165 882h2v1h-2zM1239 882h2v1h-2zM1255 896h2v1h-2zM1262 896h8v1h-8zM1163 881h2v1h-2zM1184 886h2v1h-2zM1219 877h2v1h-2zM1231 877h2v1h-2zM160 871h2v1h-2zM359 823h1v2h-1zM576 830h1v2h-1zM261 827h1v1h-1zM607 816h1v2h-1zM116 844h1v2h-1zM986 850h1v2h-1zM997 848h1v3h-1zM443 839h1v2h-1zM989 846h1v1h-1zM1061 860h1v3h-1zM758 824h1v1h-1zM78 827h1v1h-1zM455 823h1v1h-1zM592 810h1v2h-1zM120 851h1v2h-1zM998 851h1v2h-1zM1247 890h1v2h-1zM161 870h1v1h-1zM561 840h1v1h-1zM925 857h1v1h-1zM697 858h1v2h-1zM1157 870h1v2h-1zM553 823h1v2h-1zM1024 844h1v1h-1zM1285 884h1v4h-1zM1111 858h1v1h-1zM1205 883h1v1h-1zM808 836h1v3h-1zM466 818h1v2h-1zM1053 860h1v3h-1zM203 851h1v3h-1zM447 832h1v2h-1zM119 849h1v2h-1zM614 828h1v2h-1zM363 829h1v1h-1zM1000 855h1v2h-1zM689 841h1v2h-1zM906 848h1v2h-1zM112 838h1v1h-1zM1043 843h1v2h-1zM115 842h1v2h-1zM1284 888h1v4h-1zM610 822h1v2h-1zM804 825h1v3h-1zM470 810h1v2h-1zM504 813h1v1h-1zM1159 875h1v2h-1zM796 823h1v1h-1zM207 837h1v3h-1zM705 830h1v1h-1zM1080 847h1v1h-1zM588 820h1v2h-1zM1005 853h1v1h-1zM1008 849h1v1h-1zM955 843h1v2h-1zM557 831h1v3h-1zM36 829h1v1h-1zM696 856h1v2h-1zM1396 832h1v1h-1zM591 812h1v3h-1zM778 819h1v1h-1zM1156 867h1v3h-1zM248 828h1v1h-1zM9 830h1v1h-1zM1293 865h1v1h-1zM948 848h1v2h-1zM1305 839h1v1h-1zM206 840h1v4h-1zM572 836h1v1h-1zM575 832h1v1h-1zM450 828h1v1h-1zM587 822h1v3h-1zM442 841h1v2h-1zM283 827h1v1h-1zM682 831h1v2h-1zM66 838h1v1h-1zM118 847h1v2h-1zM613 827h1v1h-1zM287 824h1v1h-1zM747 836h1v1h-1zM1304 840h1v3h-1zM750 832h1v1h-1zM111 836h1v2h-1zM1042 842h1v1h-1zM560 838h1v2h-1zM202 854h1v4h-1zM606 814h1v2h-1zM1098 850h1v2h-1zM446 834h1v2h-1zM1197 883h1v1h-1zM1283 892h1v4h-1zM164 864h1v2h-1zM1296 861h1v1h-1zM777 818h1v1h-1zM954 841h1v2h-1zM1288 872h1v4h-1zM912 861h1v2h-1zM704 832h1v4h-1zM988 847h1v2h-1zM1060 863h1v2h-1zM913 863h1v1h-1zM69 834h1v2h-1zM214 834h1v1h-1zM500 810h1v1h-1zM1075 852h1v1h-1zM469 812h1v2h-1zM152 868h1v1h-1zM104 828h1v1h-1zM616 831h1v2h-1zM165 862h1v2h-1zM753 828h1v1h-1zM114 840h1v2h-1zM609 820h1v2h-1zM703 836h1v4h-1zM700 847h1v3h-1zM1300 851h1v3h-1zM559 836h1v2h-1zM1113 856h1v1h-1zM590 815h1v2h-1zM996 846h1v2h-1zM654 827h1v1h-1zM924 858h1v1h-1zM465 820h1v1h-1zM1114 857h1v1h-1zM695 854h1v2h-1zM803 823h1v2h-1zM1158 872h1v3h-1zM699 850h1v4h-1zM711 835h1v1h-1zM201 859h1v1h-1zM598 805h1v1h-1zM1291 867h1v2h-1zM1287 876h1v4h-1zM760 822h1v1h-1zM612 825h1v2h-1zM1052 858h1v2h-1zM121 853h1v1h-1zM783 823h1v1h-1zM949 846h1v2h-1zM615 830h1v1h-1zM605 811h1v3h-1zM262 828h1v1h-1zM1241 883h1v1h-1zM608 818h1v2h-1zM784 824h1v1h-1zM795 824h1v1h-1zM209 831h1v1h-1zM305 826h1v1h-1zM73 830h1v1h-1zM263 829h1v1h-1zM1079 848h1v1h-1zM1242 884h1v1h-1zM1045 846h1v1h-1zM558 834h1v2h-1zM452 826h1v1h-1zM243 832h1v1h-1zM586 825h1v2h-1zM995 844h1v2h-1zM506 815h1v1h-1zM1207 881h1v1h-1zM1059 865h1v3h-1zM68 836h1v1h-1zM1204 884h1v1h-1zM100 825h1v1h-1zM710 834h1v1h-1zM510 818h1v1h-1zM1282 896h1v4h-1zM749 833h1v2h-1zM911 859h1v2h-1zM991 843h1v1h-1zM1105 865h1v1h-1zM589 817h1v3h-1zM798 821h1v1h-1zM282 828h1v1h-1zM1278 900h1v1h-1zM1058 868h1v2h-1zM809 839h1v1h-1zM1007 850h1v2h-1zM117 846h1v1h-1zM107 831h1v2h-1zM1051 855h1v3h-1zM205 844h1v3h-1zM698 854h1v4h-1zM204 847h1v4h-1zM113 839h1v1h-1zM1044 845h1v1h-1zM1295 862h1v2h-1zM1187 884h1v1h-1zM805 828h1v3h-1zM707 832h1v1h-1zM1233 878h1v1h-1zM1286 880h1v4h-1zM1191 881h1v1h-1zM574 833h1v1h-1zM1290 869h1v1h-1zM37 830h1v1h-1zM147 863h1v1h-1zM1397 833h1v1h-1zM802 820h1v3h-1zM779 820h1v1h-1zM987 849h1v1h-1zM694 852h1v2h-1zM1303 843h1v2h-1zM1154 863h1v2h-1zM38 831h1v1h-1zM471 808h1v2h-1zM1104 862h1v2h-1zM208 833h1v4h-1zM106 830h1v1h-1zM505 814h1v1h-1zM1101 856h1v2h-1zM1302 845h1v3h-1zM1333 834h1v1h-1zM550 821h1v1h-1zM1198 884h1v1h-1zM1336 836h1v1h-1zM1281 900h1v1h-1zM1281 902h1v1h-1zM247 829h1v1h-1zM604 809h1v2h-1zM71 832h1v1h-1zM1077 850h1v1h-1zM994 842h1v2h-1zM1199 885h1v1h-1zM456 822h1v1h-1zM146 862h1v1h-1zM752 829h1v2h-1zM1116 859h1v1h-1zM701 843h1v4h-1zM755 826h1v1h-1zM1074 853h1v1h-1zM693 849h1v3h-1zM910 857h1v2h-1zM1055 865h1v3h-1zM1202 886h1v1h-1zM14 827h1v1h-1zM683 833h1v1h-1zM128 858h1v1h-1zM360 825h1v2h-1zM258 824h1v1h-1zM1112 857h1v1h-1zM952 841h1v1h-1zM1243 885h1v2h-1zM573 834h1v2h-1zM960 853h1v2h-1zM657 825h1v1h-1zM649 830h1v1h-1zM1298 856h1v3h-1zM1047 848h1v2h-1zM1244 887h1v1h-1zM702 840h1v3h-1zM1190 882h1v1h-1zM603 807h1v2h-1zM169 854h1v1h-1zM1301 848h1v3h-1zM1115 858h1v1h-1zM990 844h1v2h-1zM759 823h1v1h-1zM101 826h1v1h-1zM593 808h1v2h-1zM511 819h1v1h-1zM257 823h1v1h-1zM6 832h1v1h-1zM909 854h1v3h-1zM501 811h1v1h-1zM712 836h1v1h-1zM554 825h1v2h-1zM512 820h1v1h-1zM105 829h1v1h-1zM807 834h1v2h-1zM1153 862h1v1h-1zM356 818h1v2h-1zM454 824h1v1h-1zM690 843h1v2h-1zM168 856h1v2h-1zM1103 860h1v2h-1zM1332 833h1v1h-1zM1289 870h1v2h-1zM1100 854h1v2h-1zM947 850h1v2h-1zM264 830h1v1h-1zM1206 882h1v1h-1zM1050 853h1v2h-1zM686 837h1v1h-1zM1065 852h1v1h-1zM1001 858h1v1h-1zM959 851h1v2h-1zM928 855h1v1h-1zM1046 847h1v1h-1zM1107 863h1v1h-1zM1160 877h1v2h-1zM1110 859h1v1h-1zM1057 870h1v2h-1zM746 837h1v2h-1zM797 822h1v1h-1zM1155 865h1v2h-1zM40 833h1v1h-1zM1004 854h1v1h-1zM1193 879h1v1h-1zM108 833h1v1h-1zM451 827h1v1h-1zM1099 852h1v2h-1zM1194 880h1v1h-1zM1049 851h1v2h-1zM1019 848h1v1h-1zM1186 885h1v1h-1zM507 816h1v1h-1zM70 833h1v1h-1zM571 837h1v1h-1zM1023 845h1v1h-1zM1117 860h1v2h-1zM449 829h1v1h-1zM1200 886h1v1h-1zM556 829h1v2h-1zM1056 868h1v2h-1zM993 840h1v1h-1zM39 832h1v1h-1zM1118 862h1v1h-1zM951 842h1v2h-1zM1201 887h1v1h-1zM302 824h1v1h-1zM692 847h1v2h-1zM286 825h1v1h-1zM974 853h1v1h-1zM1102 858h1v2h-1zM149 865h1v1h-1zM1238 881h1v1h-1zM685 835h1v2h-1zM445 836h1v1h-1zM309 823h1v1h-1zM163 866h1v2h-1zM355 816h1v2h-1zM958 849h1v2h-1zM1292 866h1v1h-1zM260 826h1v1h-1zM1076 851h1v1h-1zM366 831h1v1h-1zM754 827h1v1h-1zM602 805h1v2h-1zM468 814h1v2h-1zM1246 889h1v1h-1zM148 864h1v1h-1zM946 852h1v2h-1zM1208 880h1v1h-1zM1064 853h1v2h-1zM415 835h1v1h-1zM691 845h1v2h-1zM806 831h1v3h-1zM908 852h1v2h-1zM1109 860h1v2h-1zM358 821h1v2h-1zM684 834h1v1h-1zM570 838h1v2h-1zM726 836h1v1h-1zM799 820h1v1h-1zM362 828h1v1h-1zM999 853h1v2h-1zM1063 855h1v3h-1zM905 847h1v1h-1zM957 847h1v2h-1zM992 842h1v1h-1zM950 844h1v2h-1zM1245 888h1v1h-1zM555 827h1v2h-1zM167 858h1v2h-1zM1299 854h1v2h-1zM1003 855h1v2h-1zM414 834h1v1h-1zM35 828h1v1h-1zM453 825h1v1h-1zM1 835h1v1h-1zM662 828h1v1h-1zM361 827h1v1h-1zM259 825h1v1h-1zM907 850h1v2h-1zM354 814h1v2h-1zM174 857h1v1h-1zM448 830h1v2h-1zM688 839h1v2h-1zM357 820h1v1h-1zM472 806h1v2h-1zM1018 849h1v1h-1zM1048 850h1v1h-1zM410 831h1v1h-1zM411 832h1v1h-1zM1196 882h1v1h-1zM444 837h1v2h-1zM162 868h1v2h-1zM125 856h1v1h-1zM1006 852h1v1h-1zM72 831h1v1h-1zM601 803h1v1h-1zM1120 864h1v1h-1zM1192 880h1v1h-1zM308 824h1v1h-1zM467 816h1v2h-1zM1195 881h1v1h-1zM151 867h1v1h-1zM687 838h1v1h-1zM312 821h1v1h-1zM585 827h1v1h-1zM110 835h1v1h-1zM1022 846h1v1h-1zM1097 849h1v1h-1zM166 860h1v2h-1zM124 855h1v1h-1zM1203 885h1v1h-1zM1161 879h1v1h-1zM956 845h1v2h-1zM288 823h1v1h-1zM34 827h1v1h-1zM748 835h1v1h-1zM1248 892h1v1h-1zM1062 858h1v2h-1zM1294 864h1v1h-1zM794 825h1v1h-1zM1297 859h1v2h-1zM1054 863h1v2h-1zM1078 849h1v1h-1zM1108 862h1v1h-1zM242 833h1v1h-1zM109 834h1v1h-1zM246 830h1v1h-1zM611 824h1v1h-1zM67 837h1v1h-1zM751 831h1v1h-1zM367 832h1v1h-1zM921 860h1v1h-1zM1119 863h1v1h-1zM368 833h1v1h-1zM953 839h1v1h-1zM801 818h1v1h-1zM150 866h1v1h-1zM416 836h1v1h-1zM1400 835h1v1h-1zM782 822h1v1h-1z" fill="#1e90ff" shape-rendering="crispEdges"/>
<path d="M347 126h4v1h-4zM595 83h2v1h-2zM611 83h9v1h-9zM679 83h8v1h-8zM757 83h4v1h-4zM802 55h43v1h-43zM44 127h2v1h-2zM343 127h4v1h-4zM1257 159h4v1h-4zM1277 172h3v1h-3zM1336 258h6v1h-6zM1348 258h4v1h-4zM199 142h3v1h-3zM319 142h2v1h-2zM369 142h5v1h-5zM382 142h6v1h-6zM195 141h4v1h-4zM321 141h2v1h-2zM363 141h6v1h-6zM1261 160h4v1h-4zM1409 218h8v1h-8zM1280 173h2v1h-2zM435 156h4v1h-4zM453 156h3v1h-3zM1253 156h2v1h-2zM121 153h2v1h-2zM424 153h3v1h-3zM461 153h3v1h-3zM546 87h3v1h-3zM579 87h4v1h-4zM587 87h2v1h-2zM635 87h21v1h-21zM212 146h3v1h-3zM394 146h2v1h-2zM788 64h2v1h-2zM872 64h35v1h-35zM922 64h4v1h-4zM26 134h2v1h-2zM1314 252h2v1h-2zM499 104h2v1h-2zM1007 104h2v1h-2zM1193 104h2v1h-2zM83 106h2v1h-2zM1011 106h3v1h-3zM1198 106h3v1h-3zM791 62h2v1h-2zM855 62h6v1h-6zM910 62h2v1h-2zM915 62h4v1h-4zM34 130h7v1h-7zM335 130h3v1h-3zM703 78h18v1h-18zM769 78h2v1h-2zM944 78h2v1h-2zM514 99h2v1h-2zM972 99h4v1h-4zM1170 99h3v1h-3zM135 148h2v1h-2zM219 148h4v1h-4zM398 148h2v1h-2zM1244 148h2v1h-2zM205 144h4v1h-4zM314 144h2v1h-2zM390 144h2v1h-2zM95 101h2v1h-2zM508 101h3v1h-3zM980 101h8v1h-8zM1189 101h2v1h-2zM66 120h2v1h-2zM1044 120h2v1h-2zM1051 120h2v1h-2zM1064 120h6v1h-6zM1089 120h4v1h-4zM1097 120h2v1h-2zM597 82h2v1h-2zM603 82h8v1h-8zM687 82h5v1h-5zM749 82h8v1h-8zM761 82h3v1h-3zM952 82h2v1h-2zM549 86h10v1h-10zM572 86h7v1h-7zM589 86h2v1h-2zM631 86h4v1h-4zM656 86h7v1h-7zM1014 107h2v1h-2zM1201 107h2v1h-2zM1009 105h2v1h-2zM1195 105h3v1h-3zM599 81h4v1h-4zM692 81h4v1h-4zM738 81h11v1h-11zM764 81h2v1h-2zM950 81h2v1h-2zM48 124h2v1h-2zM176 124h2v1h-2zM1028 113h2v1h-2zM1125 113h4v1h-4zM1210 113h4v1h-4zM559 85h13v1h-13zM591 85h2v1h-2zM627 85h4v1h-4zM663 85h8v1h-8zM78 110h2v1h-2zM1021 110h2v1h-2zM511 100h3v1h-3zM976 100h4v1h-4zM1168 100h2v1h-2zM699 79h4v1h-4zM721 79h8v1h-8zM946 79h2v1h-2zM1023 111h3v1h-3zM1133 111h13v1h-13zM1207 111h2v1h-2zM1321 256h11v1h-11zM1356 256h2v1h-2zM593 84h2v1h-2zM620 84h7v1h-7zM671 84h8v1h-8zM113 149h2v1h-2zM132 149h3v1h-3zM223 149h3v1h-3zM400 149h9v1h-9zM140 145h2v1h-2zM209 145h3v1h-3zM312 145h2v1h-2zM392 145h2v1h-2zM1042 119h2v1h-2zM1053 119h2v1h-2zM1062 119h2v1h-2zM1070 119h8v1h-8zM1085 119h4v1h-4zM1099 119h2v1h-2zM1111 119h2v1h-2zM1114 119h2v1h-2zM28 133h2v1h-2zM41 129h2v1h-2zM338 129h3v1h-3zM341 128h2v1h-2zM516 98h2v1h-2zM968 98h4v1h-4zM1173 98h3v1h-3zM1182 98h5v1h-5zM117 151h2v1h-2zM126 151h3v1h-3zM418 151h3v1h-3zM161 121h11v1h-11zM1046 121h2v1h-2zM1049 121h2v1h-2zM1093 121h4v1h-4zM115 150h2v1h-2zM129 150h3v1h-3zM409 150h9v1h-9zM32 131h2v1h-2zM333 131h2v1h-2zM269 192h4v1h-4zM277 188h2v1h-2zM300 155h2v1h-2zM431 155h4v1h-4zM456 155h2v1h-2zM786 65h2v1h-2zM926 65h2v1h-2zM912 61h3v1h-3zM1039 118h3v1h-3zM1055 118h2v1h-2zM1059 118h3v1h-3zM1078 118h7v1h-7zM1101 118h2v1h-2zM1109 118h2v1h-2zM504 102h4v1h-4zM988 102h12v1h-12zM543 88h3v1h-3zM583 88h4v1h-4zM1332 257h4v1h-4zM1342 257h6v1h-6zM50 123h8v1h-8zM174 123h2v1h-2zM1030 114h3v1h-3zM1122 114h3v1h-3zM1214 114h3v1h-3zM119 152h2v1h-2zM123 152h3v1h-3zM304 152h2v1h-2zM421 152h3v1h-3zM464 152h2v1h-2zM1026 112h2v1h-2zM1129 112h4v1h-4zM1146 112h2v1h-2zM794 60h2v1h-2zM351 125h3v1h-3zM1319 255h2v1h-2zM1016 108h3v1h-3zM1203 108h2v1h-2zM518 97h2v1h-2zM964 97h4v1h-4zM1176 97h6v1h-6zM861 63h11v1h-11zM907 63h3v1h-3zM919 63h3v1h-3zM193 140h2v1h-2zM360 140h3v1h-3zM1019 109h2v1h-2zM1398 222h2v1h-2zM935 72h2v1h-2zM537 90h3v1h-3zM439 157h14v1h-14zM21 138h2v1h-2zM72 115h2v1h-2zM1033 115h2v1h-2zM1120 115h2v1h-2zM1150 115h2v1h-2zM1378 237h2v1h-2zM1035 116h2v1h-2zM1105 116h2v1h-2zM784 66h2v1h-2zM58 122h7v1h-7zM172 122h2v1h-2zM1274 171h3v1h-3zM273 191h2v1h-2zM526 93h4v1h-4zM1316 253h2v1h-2zM533 91h4v1h-4zM1382 234h2v1h-2zM143 143h2v1h-2zM202 143h3v1h-3zM316 143h3v1h-3zM374 143h8v1h-8zM388 143h2v1h-2zM782 67h2v1h-2zM929 67h2v1h-2zM1394 224h2v1h-2zM851 59h2v1h-2zM1037 117h2v1h-2zM1057 117h2v1h-2zM1103 117h2v1h-2zM1107 117h2v1h-2zM1117 117h2v1h-2zM427 154h4v1h-4zM458 154h3v1h-3zM501 103h3v1h-3zM1000 103h7v1h-7zM137 147h2v1h-2zM215 147h4v1h-4zM396 147h2v1h-2zM1272 170h2v1h-2zM524 94h2v1h-2zM1400 221h2v1h-2zM266 193h3v1h-3zM540 89h3v1h-3zM520 96h2v1h-2zM961 96h3v1h-3zM1352 259h2v1h-2zM30 132h2v1h-2zM331 132h2v1h-2zM1372 242h2v1h-2zM1396 223h2v1h-2zM800 56h2v1h-2zM845 56h4v1h-4zM1388 229h2v1h-2zM773 75h2v1h-2zM939 75h2v1h-2zM1405 219h4v1h-4zM696 80h3v1h-3zM729 80h9v1h-9zM766 80h2v1h-2zM948 80h2v1h-2zM522 95h2v1h-2zM530 92h3v1h-3zM941 76h2v1h-2zM797 58h2v1h-2zM1402 220h3v1h-3zM1364 249h2v1h-2zM1227 126h1v1h-1zM295 163h1v2h-1zM1228 127h1v1h-1zM246 172h1v2h-1zM776 73h1v1h-1zM1293 200h1v2h-1zM1283 177h1v3h-1zM110 137h1v5h-1zM1311 245h1v3h-1zM1234 133h1v2h-1zM1242 146h1v1h-1zM291 170h1v2h-1zM1294 202h1v2h-1zM357 133h1v2h-1zM1219 117h1v2h-1zM99 104h1v2h-1zM234 158h1v2h-1zM107 125h1v4h-1zM182 129h1v1h-1zM253 180h1v1h-1zM958 90h1v2h-1zM1300 215h1v3h-1zM498 105h1v1h-1zM152 132h1v2h-1zM1301 218h1v2h-1zM954 83h1v2h-1zM479 128h1v1h-1zM1376 239h1v1h-1zM1286 184h1v3h-1zM849 57h1v1h-1zM159 123h1v2h-1zM189 136h1v1h-1zM260 187h1v1h-1zM1307 233h1v3h-1zM147 139h1v1h-1zM1167 101h1v1h-1zM928 66h1v1h-1zM275 190h1v1h-1zM360 139h1v1h-1zM1209 112h1v1h-1zM310 147h1v1h-1zM490 114h1v1h-1zM299 156h1v1h-1zM1162 107h1v1h-1zM796 59h1v1h-1zM279 187h1v1h-1zM326 137h1v1h-1zM238 163h1v2h-1zM303 153h1v1h-1zM106 121h1v4h-1zM473 137h1v2h-1zM482 124h1v1h-1zM109 133h1v4h-1zM1387 230h1v1h-1zM287 177h1v1h-1zM94 100h1v1h-1zM245 171h1v1h-1zM469 144h1v2h-1zM493 110h1v2h-1zM1363 250h1v1h-1zM359 137h1v2h-1zM1048 122h1v1h-1zM1367 247h1v1h-1zM356 131h1v2h-1zM780 69h1v1h-1zM294 165h1v2h-1zM1360 253h1v1h-1zM1222 121h1v1h-1zM1310 242h1v3h-1zM91 99h1v1h-1zM7 126h1v2h-1zM237 162h1v1h-1zM1159 110h1v1h-1zM155 129h1v1h-1zM1223 122h1v1h-1zM943 77h1v1h-1zM158 125h1v1h-1zM105 117h1v4h-1zM259 186h1v1h-1zM485 120h1v1h-1zM290 172h1v2h-1zM1285 182h1v2h-1zM1188 100h1v1h-1zM25 135h1v1h-1zM1248 151h1v1h-1zM1267 164h1v1h-1zM1306 230h1v3h-1zM1154 116h1v1h-1zM938 74h1v1h-1zM1391 227h1v1h-1zM150 135h1v1h-1zM1229 128h1v1h-1zM82 107h1v1h-1zM71 116h1v1h-1zM1230 129h1v1h-1zM298 157h1v2h-1zM1374 241h1v1h-1zM1282 175h1v2h-1zM1295 204h1v2h-1zM229 153h1v1h-1zM248 175h1v1h-1zM75 113h1v1h-1zM1292 197h1v3h-1zM1165 103h1v1h-1zM230 154h1v1h-1zM1266 162h1v2h-1zM1309 239h1v3h-1zM468 146h1v2h-1zM142 144h1v1h-1zM1289 191h1v2h-1zM771 77h1v1h-1zM1302 220h1v3h-1zM146 140h1v2h-1zM112 146h1v3h-1zM775 74h1v1h-1zM1284 180h1v2h-1zM281 185h1v1h-1zM108 129h1v4h-1zM293 167h1v2h-1zM86 104h1v1h-1zM1281 174h1v1h-1zM111 142h1v4h-1zM1243 147h1v1h-1zM355 129h1v2h-1zM6 124h1v2h-1zM289 174h1v2h-1zM1255 157h1v1h-1zM239 165h1v1h-1zM934 71h1v1h-1zM149 136h1v2h-1zM43 128h1v1h-1zM240 166h1v1h-1zM1288 189h1v2h-1zM476 132h1v1h-1zM184 131h1v1h-1zM1157 112h1v1h-1zM47 125h1v1h-1zM328 135h1v1h-1zM1299 213h1v2h-1zM104 114h1v3h-1zM247 174h1v1h-1zM492 112h1v1h-1zM850 58h1v1h-1zM1305 228h1v2h-1zM472 139h1v2h-1zM191 138h1v1h-1zM1313 250h1v2h-1zM358 135h1v2h-1zM183 130h1v1h-1zM1291 195h1v2h-1zM254 181h1v1h-1zM1393 225h1v1h-1zM5 122h1v2h-1zM9 129h1v2h-1zM1265 161h1v1h-1zM1119 116h1v1h-1zM1225 124h1v1h-1zM1164 104h1v2h-1zM495 108h1v1h-1zM1380 236h1v1h-1zM1369 245h1v1h-1zM284 181h1v1h-1zM190 137h1v1h-1zM261 188h1v1h-1zM1298 211h1v2h-1zM1250 153h1v1h-1zM1362 251h1v1h-1zM467 148h1v2h-1zM1161 108h1v1h-1zM1304 225h1v3h-1zM354 127h1v2h-1zM1312 248h1v2h-1zM323 140h1v1h-1zM20 139h1v1h-1zM157 126h1v1h-1zM12 134h1v2h-1zM160 122h1v1h-1zM1217 115h1v1h-1zM475 133h1v2h-1zM307 150h1v1h-1zM484 121h1v1h-1zM1290 193h1v2h-1zM1156 113h1v2h-1zM232 156h1v1h-1zM487 117h1v1h-1zM1287 187h1v2h-1zM77 111h1v1h-1zM1308 236h1v3h-1zM18 141h1v1h-1zM1224 123h1v1h-1zM81 108h1v1h-1zM1384 233h1v1h-1zM1205 109h1v1h-1zM471 141h1v1h-1zM85 105h1v1h-1zM1297 209h1v2h-1zM1206 110h1v1h-1zM1113 120h1v1h-1zM68 119h1v1h-1zM231 155h1v1h-1zM1231 130h1v1h-1zM1239 142h1v2h-1zM353 126h1v1h-1zM8 128h1v1h-1zM777 72h1v1h-1zM179 126h1v1h-1zM11 132h1v2h-1zM1152 116h1v1h-1zM4 120h1v2h-1zM88 102h1v1h-1zM1 114h1v2h-1zM1249 152h1v1h-1zM1268 165h1v1h-1zM327 136h1v1h-1zM466 150h1v2h-1zM103 112h1v2h-1zM156 127h1v2h-1zM178 125h1v1h-1zM249 176h1v1h-1zM1235 135h1v2h-1zM1238 140h1v2h-1zM14 137h1v2h-1zM283 182h1v2h-1zM148 138h1v1h-1zM286 178h1v2h-1zM1371 243h1v1h-1zM151 134h1v1h-1zM330 133h1v1h-1zM478 129h1v1h-1zM15 139h1v1h-1zM276 189h1v1h-1zM185 132h1v1h-1zM256 183h1v1h-1zM311 146h1v1h-1zM186 133h1v1h-1zM1163 106h1v1h-1zM494 109h1v1h-1zM241 167h1v1h-1zM257 184h1v1h-1zM955 85h1v2h-1zM1296 206h1v3h-1zM139 146h1v1h-1zM242 168h1v1h-1zM474 135h1v2h-1zM486 118h1v2h-1zM1271 169h1v1h-1zM102 110h1v2h-1zM264 191h1v1h-1zM481 125h1v1h-1zM10 131h1v1h-1zM1375 240h1v1h-1zM470 142h1v2h-1zM1256 158h1v1h-1zM497 106h1v1h-1zM3 118h1v2h-1zM255 182h1v1h-1zM76 112h1v1h-1zM1166 102h1v1h-1zM1318 254h1v1h-1zM0 113h1v1h-1zM1226 125h1v1h-1zM1355 257h1v1h-1zM325 138h1v1h-1zM262 189h1v1h-1zM779 70h1v1h-1zM768 79h1v1h-1zM302 154h1v1h-1zM799 57h1v1h-1zM192 139h1v1h-1zM1359 254h1v1h-1zM263 190h1v1h-1zM1237 139h1v1h-1zM90 100h1v1h-1zM772 76h1v1h-1zM101 108h1v2h-1zM306 151h1v1h-1zM1252 155h1v1h-1zM1158 111h1v1h-1zM154 130h1v1h-1zM1233 132h1v1h-1zM1241 145h1v1h-1zM1386 231h1v1h-1zM1303 223h1v2h-1zM2 116h1v2h-1zM1390 228h1v1h-1zM87 103h1v1h-1zM932 69h1v1h-1zM957 89h1v1h-1zM1270 167h1v2h-1zM70 117h1v1h-1zM309 148h1v1h-1zM1251 154h1v1h-1zM489 115h1v1h-1zM226 150h1v1h-1zM1116 118h1v1h-1zM1366 248h1v1h-1zM477 130h1v2h-1zM1236 137h1v2h-1zM97 102h1v1h-1zM282 184h1v1h-1zM13 136h1v1h-1zM24 136h1v1h-1zM1218 116h1v1h-1zM16 140h1v2h-1zM329 134h1v1h-1zM98 103h1v1h-1zM233 157h1v1h-1zM297 159h1v2h-1zM181 128h1v1h-1zM252 179h1v1h-1zM960 94h1v2h-1zM931 68h1v1h-1zM17 142h1v1h-1zM1153 117h1v1h-1zM956 87h1v2h-1zM74 114h1v1h-1zM1269 166h1v1h-1zM243 169h1v1h-1zM1232 131h1v1h-1zM244 170h1v1h-1zM1240 144h1v1h-1zM480 126h1v2h-1zM1191 102h1v1h-1zM285 180h1v1h-1zM250 177h1v1h-1zM1192 103h1v1h-1zM145 142h1v1h-1zM180 127h1v1h-1zM251 178h1v1h-1zM793 61h1v1h-1zM959 92h1v2h-1zM236 161h1v1h-1zM187 134h1v1h-1zM258 185h1v1h-1zM1354 258h1v1h-1zM93 99h1v1h-1zM324 139h1v1h-1zM483 122h1v2h-1zM188 135h1v1h-1zM1377 238h1v1h-1zM937 73h1v1h-1zM89 101h1v1h-1zM296 161h1v2h-1zM1148 113h1v1h-1zM1392 226h1v1h-1zM1381 235h1v1h-1zM496 107h1v1h-1zM100 106h1v2h-1zM1370 244h1v1h-1zM288 176h1v1h-1zM153 131h1v1h-1zM1149 114h1v1h-1zM265 192h1v1h-1zM1385 232h1v1h-1zM235 160h1v1h-1zM1221 120h1v1h-1zM491 113h1v1h-1zM280 186h1v1h-1zM1368 246h1v1h-1zM292 169h1v1h-1zM781 68h1v1h-1zM1246 149h1v1h-1zM854 61h1v1h-1zM778 71h1v1h-1zM1361 252h1v1h-1zM1187 99h1v1h-1zM1247 150h1v1h-1zM92 98h1v1h-1zM308 149h1v1h-1zM790 63h1v1h-1zM1358 255h1v1h-1zM488 116h1v1h-1zM1160 109h1v1h-1zM227 151h1v1h-1zM19 140h1v1h-1zM228 152h1v1h-1zM1155 115h1v1h-1zM23 137h1v1h-1zM853 60h1v1h-1zM65 121h1v1h-1zM1220 119h1v1h-1zM46 126h1v1h-1zM80 109h1v1h-1zM69 118h1v1h-1zM933 70h1v1h-1z" fill="#3cb371" shape-rendering="crispEdges"/>
<path d="M200 276h3v1h-3zM498 171h4v1h-4zM602 131h2v1h-2zM968 131h5v1h-5zM779 115h4v1h-4zM930 115h2v1h-2zM55 290h12v1h-12zM253 290h4v1h-4zM280 290h2v1h-2zM612 128h12v1h-12zM961 128h2v1h-2zM875 104h32v1h-32zM585 142h2v1h-2zM1023 142h7v1h-7zM590 139h2v1h-2zM1011 139h4v1h-4zM1325 405h19v1h-19zM1355 405h2v1h-2zM117 226h13v1h-13zM488 174h3v1h-3zM552 154h6v1h-6zM1067 154h10v1h-10zM669 124h6v1h-6zM690 124h29v1h-29zM953 124h2v1h-2zM1015 140h4v1h-4zM1314 403h2v1h-2zM1360 403h3v1h-3zM624 127h30v1h-30zM959 127h2v1h-2zM765 119h4v1h-4zM939 119h2v1h-2zM215 280h13v1h-13zM295 280h2v1h-2zM462 184h6v1h-6zM1150 184h2v1h-2zM474 180h2v1h-2zM1142 180h2v1h-2zM482 176h2v1h-2zM1134 176h2v1h-2zM680 122h5v1h-5zM725 122h5v1h-5zM947 122h3v1h-3zM564 152h6v1h-6zM1060 152h4v1h-4zM410 191h4v1h-4zM541 157h3v1h-3zM1095 157h5v1h-5zM150 237h2v1h-2zM508 169h6v1h-6zM1123 169h2v1h-2zM1344 406h11v1h-11zM44 293h4v1h-4zM265 293h11v1h-11zM598 134h2v1h-2zM983 134h6v1h-6zM994 134h3v1h-3zM144 233h2v1h-2zM398 194h4v1h-4zM136 229h3v1h-3zM1404 387h2v1h-2zM241 286h3v1h-3zM654 126h8v1h-8zM957 126h2v1h-2zM530 161h2v1h-2zM1106 161h2v1h-2zM233 283h3v1h-3zM289 283h2v1h-2zM587 141h2v1h-2zM1019 141h4v1h-4zM850 107h3v1h-3zM911 107h3v1h-3zM389 198h2v1h-2zM730 121h11v1h-11zM755 121h6v1h-6zM944 121h3v1h-3zM484 175h4v1h-4zM1132 175h2v1h-2zM769 118h4v1h-4zM937 118h2v1h-2zM193 271h2v1h-2zM306 271h2v1h-2zM197 274h2v1h-2zM414 190h11v1h-11zM1312 402h2v1h-2zM1363 402h2v1h-2zM494 172h4v1h-4zM1128 172h2v1h-2zM675 123h5v1h-5zM685 123h5v1h-5zM719 123h6v1h-6zM950 123h3v1h-3zM798 109h3v1h-3zM916 109h3v1h-3zM203 277h4v1h-4zM299 277h2v1h-2zM491 173h3v1h-3zM476 179h2v1h-2zM1140 179h2v1h-2zM372 207h2v1h-2zM532 160h2v1h-2zM1104 160h2v1h-2zM435 188h6v1h-6zM1155 188h2v1h-2zM583 143h2v1h-2zM1030 143h10v1h-10zM236 284h3v1h-3zM287 284h2v1h-2zM244 287h3v1h-3zM207 278h4v1h-4zM548 155h4v1h-4zM1077 155h12v1h-12zM391 197h2v1h-2zM396 195h2v1h-2zM592 138h2v1h-2zM1007 138h4v1h-4zM393 196h3v1h-3zM783 114h3v1h-3zM928 114h2v1h-2zM502 170h6v1h-6zM1125 170h2v1h-2zM520 166h2v1h-2zM1116 166h3v1h-3zM155 240h2v1h-2zM792 111h3v1h-3zM921 111h2v1h-2zM153 239h2v1h-2zM526 163h2v1h-2zM1110 163h2v1h-2zM789 112h3v1h-3zM923 112h3v1h-3zM534 159h4v1h-4zM1102 159h2v1h-2zM801 108h49v1h-49zM914 108h2v1h-2zM741 120h14v1h-14zM761 120h4v1h-4zM941 120h3v1h-3zM147 235h2v1h-2zM1003 137h4v1h-4zM34 295h6v1h-6zM1308 400h2v1h-2zM1368 400h4v1h-4zM604 130h3v1h-3zM965 130h3v1h-3zM1316 404h9v1h-9zM1357 404h3v1h-3zM211 279h4v1h-4zM13 298h2v1h-2zM19 298h5v1h-5zM454 185h8v1h-8zM48 292h3v1h-3zM261 292h4v1h-4zM276 292h2v1h-2zM15 299h4v1h-4zM1049 147h2v1h-2zM378 203h2v1h-2zM1382 396h3v1h-3zM8 296h2v1h-2zM28 296h6v1h-6zM133 228h3v1h-3zM1372 399h3v1h-3zM239 285h2v1h-2zM231 282h2v1h-2zM291 282h2v1h-2zM522 165h2v1h-2zM1114 165h2v1h-2zM402 193h4v1h-4zM164 245h2v1h-2zM160 243h2v1h-2zM853 106h3v1h-3zM909 106h2v1h-2zM856 105h19v1h-19zM907 105h2v1h-2zM184 264h2v1h-2zM1401 389h2v1h-2zM1 291h2v1h-2zM51 291h4v1h-4zM257 291h4v1h-4zM278 291h2v1h-2zM1391 393h2v1h-2zM795 110h3v1h-3zM919 110h2v1h-2zM188 267h2v1h-2zM386 199h3v1h-3zM1393 392h3v1h-3zM382 201h2v1h-2zM447 186h7v1h-7zM141 231h2v1h-2zM5 294h2v1h-2zM40 294h4v1h-4zM157 241h2v1h-2zM441 187h6v1h-6zM1214 257h2v1h-2zM978 133h5v1h-5zM989 133h5v1h-5zM112 230h2v1h-2zM139 230h2v1h-2zM130 227h3v1h-3zM67 289h2v1h-2zM250 289h3v1h-3zM228 281h3v1h-3zM293 281h2v1h-2zM1310 401h2v1h-2zM1365 401h3v1h-3zM370 208h2v1h-2zM595 136h2v1h-2zM1000 136h3v1h-3zM1304 397h2v1h-2zM1378 397h4v1h-4zM1053 149h2v1h-2zM786 113h3v1h-3zM926 113h2v1h-2zM375 205h2v1h-2zM776 116h3v1h-3zM932 116h3v1h-3zM10 297h3v1h-3zM24 297h4v1h-4zM576 148h2v1h-2zM1051 148h2v1h-2zM406 192h4v1h-4zM518 167h2v1h-2zM1119 167h2v1h-2zM538 158h3v1h-3zM1100 158h2v1h-2zM514 168h4v1h-4zM1121 168h2v1h-2zM524 164h2v1h-2zM1112 164h2v1h-2zM662 125h7v1h-7zM955 125h2v1h-2zM573 150h2v1h-2zM1055 150h2v1h-2zM425 189h10v1h-10zM1388 394h3v1h-3zM558 153h6v1h-6zM1064 153h3v1h-3zM384 200h2v1h-2zM478 178h2v1h-2zM1138 178h2v1h-2zM1408 384h2v1h-2zM607 129h5v1h-5zM963 129h2v1h-2zM361 211h3v1h-3zM580 145h2v1h-2zM1045 145h2v1h-2zM1399 390h2v1h-2zM1040 144h5v1h-5zM364 210h4v1h-4zM528 162h2v1h-2zM1108 162h2v1h-2zM472 181h2v1h-2zM1144 181h2v1h-2zM368 209h2v1h-2zM570 151h3v1h-3zM1057 151h3v1h-3zM773 117h3v1h-3zM935 117h2v1h-2zM1385 395h3v1h-3zM1375 398h3v1h-3zM380 202h2v1h-2zM544 156h4v1h-4zM1089 156h6v1h-6zM480 177h2v1h-2zM1136 177h2v1h-2zM973 132h5v1h-5zM1396 391h3v1h-3zM468 183h2v1h-2zM1148 183h2v1h-2zM247 288h3v1h-3zM997 135h3v1h-3zM1047 146h2v1h-2zM470 182h2v1h-2zM1146 182h2v1h-2zM162 244h2v1h-2zM1231 275h1v2h-1zM1153 186h1v1h-1zM1403 388h1v1h-1zM178 258h1v1h-1zM1175 209h1v2h-1zM84 269h1v1h-1zM87 265h1v1h-1zM1219 261h1v1h-1zM72 285h1v1h-1zM96 252h1v1h-1zM99 248h1v1h-1zM190 268h1v1h-1zM351 222h1v1h-1zM1277 359h1v2h-1zM1208 251h1v1h-1zM111 231h1v1h-1zM1220 262h1v1h-1zM1288 378h1v2h-1zM1249 306h1v2h-1zM1252 312h1v2h-1zM1270 347h1v2h-1zM1209 252h1v1h-1zM326 249h1v2h-1zM346 228h1v1h-1zM103 241h1v2h-1zM106 237h1v1h-1zM1274 354h1v2h-1zM323 253h1v1h-1zM1263 334h1v2h-1zM1197 237h1v1h-1zM90 261h1v1h-1zM102 243h1v2h-1zM1207 250h1v1h-1zM338 236h1v2h-1zM1273 352h1v2h-1zM75 281h1v1h-1zM1276 358h1v1h-1zM315 262h1v1h-1zM335 240h1v1h-1zM1292 384h1v1h-1zM1248 304h1v2h-1zM1160 192h1v1h-1zM1269 345h1v2h-1zM1298 391h1v1h-1zM1266 340h1v1h-1zM70 287h1v1h-1zM1230 274h1v1h-1zM310 268h1v1h-1zM1299 392h1v1h-1zM1262 332h1v2h-1zM1186 222h1v1h-1zM83 270h1v2h-1zM303 274h1v1h-1zM186 265h1v1h-1zM1196 235h1v2h-1zM341 233h1v1h-1zM1200 241h1v1h-1zM78 277h1v1h-1zM1130 173h1v1h-1zM166 246h1v1h-1zM1291 383h1v1h-1zM1251 310h1v2h-1zM1223 265h1v2h-1zM167 247h1v1h-1zM1185 221h1v1h-1zM358 214h1v1h-1zM1265 338h1v2h-1zM98 249h1v2h-1zM173 253h1v1h-1zM333 242h1v1h-1zM353 220h1v1h-1zM1170 204h1v1h-1zM196 273h1v1h-1zM174 254h1v1h-1zM1233 278h1v1h-1zM1171 205h1v1h-1zM93 256h1v2h-1zM1177 212h1v1h-1zM1178 213h1v1h-1zM318 258h1v1h-1zM1247 302h1v2h-1zM1306 398h1v1h-1zM181 261h1v1h-1zM1290 381h1v2h-1zM1250 308h1v2h-1zM1162 194h1v2h-1zM345 229h1v1h-1zM195 272h1v1h-1zM1222 264h1v1h-1zM1163 196h1v1h-1zM313 264h1v1h-1zM1272 350h1v2h-1zM1244 296h1v2h-1zM159 242h1v1h-1zM1188 225h1v1h-1zM1199 239h1v2h-1zM86 266h1v1h-1zM89 262h1v1h-1zM101 245h1v1h-1zM1258 324h1v2h-1zM301 276h1v1h-1zM1221 263h1v1h-1zM105 238h1v2h-1zM325 251h1v1h-1zM180 260h1v1h-1zM348 225h1v2h-1zM191 269h1v1h-1zM282 289h1v1h-1zM594 137h1v1h-1zM1246 300h1v2h-1zM1210 253h1v1h-1zM1268 343h1v2h-1zM77 278h1v2h-1zM1232 277h1v1h-1zM80 274h1v2h-1zM1300 393h1v1h-1zM1243 294h1v2h-1zM1261 330h1v2h-1zM1407 385h1v1h-1zM1264 336h1v2h-1zM1301 394h1v1h-1zM1236 282h1v2h-1zM1198 238h1v1h-1zM1411 382h1v1h-1zM317 259h1v2h-1zM337 238h1v1h-1zM340 234h1v1h-1zM360 212h1v1h-1zM328 247h1v1h-1zM146 234h1v1h-1zM115 228h1v1h-1zM312 265h1v2h-1zM7 295h1v1h-1zM578 147h1v1h-1zM69 288h1v1h-1zM108 234h1v1h-1zM1293 385h1v1h-1zM168 248h1v1h-1zM305 272h1v1h-1zM582 144h1v1h-1zM169 249h1v1h-1zM1187 223h1v2h-1zM1166 199h1v2h-1zM1267 341h1v2h-1zM343 231h1v1h-1zM1414 378h1v1h-1zM320 256h1v1h-1zM1260 328h1v2h-1zM92 258h1v1h-1zM1191 229h1v1h-1zM143 232h1v1h-1zM187 266h1v1h-1zM1257 322h1v2h-1zM1217 259h1v1h-1zM1179 214h1v1h-1zM1161 193h1v1h-1zM355 218h1v1h-1zM1180 215h1v1h-1zM309 269h1v1h-1zM332 243h1v1h-1zM1224 267h1v1h-1zM1245 298h1v2h-1zM1234 279h1v2h-1zM1242 292h1v2h-1zM95 253h1v2h-1zM1235 281h1v1h-1zM1238 285h1v2h-1zM1216 258h1v1h-1zM1259 326h1v2h-1zM3 292h1v1h-1zM175 255h1v1h-1zM1201 242h1v1h-1zM1172 206h1v1h-1zM1131 174h1v1h-1zM176 256h1v1h-1zM1202 243h1v1h-1zM1282 369h1v2h-1zM1307 399h1v1h-1zM182 262h1v1h-1zM1413 379h1v2h-1zM88 263h1v2h-1zM1296 388h1v2h-1zM76 280h1v1h-1zM100 246h1v2h-1zM1190 227h1v2h-1zM183 263h1v1h-1zM1406 386h1v1h-1zM1212 255h1v1h-1zM1241 290h1v2h-1zM600 133h1v1h-1zM377 204h1v1h-1zM347 227h1v1h-1zM1127 171h1v1h-1zM284 287h1v1h-1zM350 223h1v1h-1zM107 235h1v2h-1zM327 248h1v1h-1zM1256 320h1v2h-1zM1281 367h1v2h-1zM91 259h1v2h-1zM1164 197h1v1h-1zM1227 270h1v2h-1zM1189 226h1v1h-1zM1410 383h1v1h-1zM1237 284h1v1h-1zM330 245h1v1h-1zM319 257h1v1h-1zM152 238h1v1h-1zM110 232h1v1h-1zM1193 231h1v2h-1zM1302 395h1v1h-1zM357 215h1v2h-1zM71 286h1v1h-1zM114 229h1v1h-1zM311 267h1v1h-1zM314 263h1v1h-1zM1303 396h1v1h-1zM1255 318h1v2h-1zM1204 246h1v1h-1zM1284 372h1v2h-1zM192 270h1v1h-1zM1157 189h1v1h-1zM298 278h1v1h-1zM1416 376h1v1h-1zM322 254h1v1h-1zM342 232h1v1h-1zM1211 254h1v1h-1zM79 276h1v1h-1zM82 272h1v1h-1zM94 255h1v1h-1zM1226 269h1v1h-1zM1295 387h1v1h-1zM170 250h1v1h-1zM1167 201h1v1h-1zM74 282h1v1h-1zM1203 244h1v2h-1zM334 241h1v1h-1zM354 219h1v1h-1zM177 257h1v1h-1zM1280 365h1v2h-1zM1283 371h1v1h-1zM1225 268h1v1h-1zM85 267h1v2h-1zM302 275h1v1h-1zM1294 386h1v1h-1zM97 251h1v1h-1zM352 221h1v1h-1zM286 285h1v1h-1zM1181 216h1v1h-1zM1240 288h1v2h-1zM1182 217h1v1h-1zM1152 185h1v1h-1zM1192 230h1v1h-1zM1254 316h1v2h-1zM4 293h1v1h-1zM1218 260h1v1h-1zM1174 208h1v1h-1zM1279 363h1v2h-1zM1287 377h1v1h-1zM73 283h1v2h-1zM329 246h1v1h-1zM1297 390h1v1h-1zM575 149h1v1h-1zM349 224h1v1h-1zM283 288h1v1h-1zM1239 287h1v1h-1zM1229 273h1v1h-1zM104 240h1v1h-1zM1173 207h1v1h-1zM324 252h1v1h-1zM344 230h1v1h-1zM199 275h1v1h-1zM1206 248h1v2h-1zM1286 375h1v2h-1zM1158 190h1v1h-1zM1412 381h1v1h-1zM1275 356h1v2h-1zM1159 191h1v1h-1zM1165 198h1v1h-1zM116 227h1v1h-1zM1213 256h1v1h-1zM1184 219h1v2h-1zM336 239h1v1h-1zM579 146h1v1h-1zM0 290h1v1h-1zM356 217h1v1h-1zM109 233h1v1h-1zM1195 234h1v1h-1zM172 252h1v1h-1zM1415 377h1v1h-1zM321 255h1v1h-1zM1253 314h1v2h-1zM1205 247h1v1h-1zM81 273h1v1h-1zM1278 361h1v2h-1zM316 261h1v1h-1zM339 235h1v1h-1zM1228 272h1v1h-1zM1271 349h1v1h-1zM1194 233h1v1h-1zM359 213h1v1h-1zM1154 187h1v1h-1zM304 273h1v1h-1zM1169 203h1v1h-1zM1176 211h1v1h-1zM1285 374h1v1h-1zM597 135h1v1h-1zM374 206h1v1h-1zM308 270h1v1h-1zM589 140h1v1h-1zM297 279h1v1h-1zM331 244h1v1h-1zM285 286h1v1h-1zM601 132h1v1h-1zM1289 380h1v1h-1zM179 259h1v1h-1zM1183 218h1v1h-1zM149 236h1v1h-1zM171 251h1v1h-1zM1168 202h1v1h-1z" fill="#3cb371" shape-rendering="crispEdges"/>
<path d="M733 160h9v1h-9zM765 160h4v1h-4zM922 160h3v1h-3zM960 160h2v1h-2zM964 160h4v1h-4zM1083 192h8v1h-8zM431 223h3v1h-3zM471 223h2v1h-2zM555 223h3v1h-3zM616 171h2v1h-2zM713 171h2v1h-2zM1003 171h5v1h-5zM1028 171h10v1h-10zM1046 171h4v1h-4zM303 392h2v1h-2zM1072 189h2v1h-2zM622 166h2v1h-2zM635 166h33v1h-33zM992 166h2v1h-2zM10 460h2v1h-2zM28 460h3v1h-3zM40 460h26v1h-26zM262 394h2v1h-2zM269 394h8v1h-8zM298 394h2v1h-2zM578 211h2v1h-2zM1294 572h2v1h-2zM1297 572h2v1h-2zM701 173h8v1h-8zM1013 173h7v1h-7zM716 169h2v1h-2zM998 169h2v1h-2zM1320 554h13v1h-13zM1350 554h11v1h-11zM1077 191h6v1h-6zM507 238h11v1h-11zM1365 556h4v1h-4zM135 308h2v1h-2zM419 230h2v1h-2zM479 230h2v1h-2zM534 230h3v1h-3zM625 164h4v1h-4zM671 164h19v1h-19zM724 164h2v1h-2zM936 164h6v1h-6zM948 164h4v1h-4zM982 164h6v1h-6zM16 457h2v1h-2zM20 457h3v1h-3zM70 457h2v1h-2zM258 396h2v1h-2zM285 396h8v1h-8zM726 163h2v1h-2zM775 163h9v1h-9zM798 163h35v1h-35zM931 163h5v1h-5zM952 163h4v1h-4zM976 163h6v1h-6zM201 411h29v1h-29zM1333 553h17v1h-17zM434 222h2v1h-2zM558 222h3v1h-3zM728 162h3v1h-3zM772 162h3v1h-3zM784 162h14v1h-14zM833 162h12v1h-12zM928 162h3v1h-3zM956 162h2v1h-2zM971 162h5v1h-5zM871 146h5v1h-5zM696 172h5v1h-5zM709 172h4v1h-4zM1008 172h5v1h-5zM1020 172h8v1h-8zM1379 559h5v1h-5zM1394 559h8v1h-8zM1150 255h2v1h-2zM424 226h2v1h-2zM545 226h3v1h-3zM450 218h10v1h-10zM1091 193h5v1h-5zM742 159h13v1h-13zM762 159h3v1h-3zM920 159h2v1h-2zM962 159h2v1h-2zM731 161h2v1h-2zM769 161h3v1h-3zM845 161h4v1h-4zM925 161h3v1h-3zM958 161h2v1h-2zM968 161h3v1h-3zM249 401h2v1h-2zM629 165h6v1h-6zM668 165h3v1h-3zM722 165h2v1h-2zM942 165h6v1h-6zM988 165h4v1h-4zM186 395h2v1h-2zM260 395h2v1h-2zM277 395h8v1h-8zM293 395h5v1h-5zM1384 560h10v1h-10zM429 224h2v1h-2zM551 224h4v1h-4zM1285 567h2v1h-2zM264 393h5v1h-5zM300 393h3v1h-3zM1314 555h6v1h-6zM1361 555h4v1h-4zM996 168h2v1h-2zM537 229h3v1h-3zM179 389h2v1h-2zM401 237h2v1h-2zM495 237h12v1h-12zM518 237h2v1h-2zM130 304h2v1h-2zM124 300h2v1h-2zM1070 188h2v1h-2zM237 407h2v1h-2zM235 408h2v1h-2zM440 219h10v1h-10zM567 219h2v1h-2zM256 397h2v1h-2zM407 234h5v1h-5zM488 234h2v1h-2zM525 234h2v1h-2zM305 391h2v1h-2zM426 225h3v1h-3zM548 225h3v1h-3zM126 301h2v1h-2zM1148 254h2v1h-2zM239 406h2v1h-2zM876 145h23v1h-23zM230 410h2v1h-2zM438 220h2v1h-2zM565 220h2v1h-2zM403 236h2v1h-2zM493 236h2v1h-2zM520 236h2v1h-2zM412 233h5v1h-5zM486 233h2v1h-2zM527 233h2v1h-2zM383 261h2v1h-2zM1060 186h8v1h-8zM254 398h2v1h-2zM1290 570h2v1h-2zM1000 170h3v1h-3zM1038 170h8v1h-8zM542 227h3v1h-3zM12 459h2v1h-2zM26 459h2v1h-2zM66 459h2v1h-2zM436 221h2v1h-2zM561 221h4v1h-4zM245 403h2v1h-2zM899 144h7v1h-7zM857 147h14v1h-14zM251 400h2v1h-2zM8 461h2v1h-2zM31 461h9v1h-9zM3 465h2v1h-2zM755 158h7v1h-7zM719 167h2v1h-2zM994 167h2v1h-2zM247 402h2v1h-2zM122 299h2v1h-2zM362 280h2v1h-2zM1374 558h5v1h-5zM1146 253h2v1h-2zM1288 569h2v1h-2zM1301 569h2v1h-2zM1369 557h5v1h-5zM1074 190h3v1h-3zM574 214h2v1h-2zM917 157h2v1h-2zM120 298h2v1h-2zM483 232h3v1h-3zM529 232h2v1h-2zM913 154h2v1h-2zM405 235h2v1h-2zM490 235h3v1h-3zM522 235h3v1h-3zM463 216h2v1h-2zM571 216h2v1h-2zM323 363h2v1h-2zM1152 256h2v1h-2zM460 217h3v1h-3zM1068 187h2v1h-2zM1144 252h2v1h-2zM481 231h2v1h-2zM531 231h3v1h-3zM360 281h2v1h-2zM1292 571h2v1h-2zM18 456h2v1h-2zM14 458h2v1h-2zM23 458h3v1h-3zM68 458h2v1h-2zM368 277h2v1h-2zM540 228h2v1h-2zM604 181h2v1h-2zM610 176h2v1h-2zM241 405h2v1h-2zM232 409h3v1h-3zM243 404h2v1h-2zM1111 210h2v1h-2zM364 279h2v1h-2zM366 278h2v1h-2zM91 415h1v2h-1zM1055 181h1v1h-1zM360 282h1v3h-1zM197 406h1v1h-1zM1234 429h1v2h-1zM150 330h1v3h-1zM587 201h1v1h-1zM1280 553h1v3h-1zM607 179h1v1h-1zM352 315h1v2h-1zM319 368h1v2h-1zM1051 174h1v2h-1zM1409 547h1v2h-1zM1187 344h1v2h-1zM388 256h1v2h-1zM1273 532h1v3h-1zM99 391h1v4h-1zM1305 566h1v1h-1zM1115 213h1v1h-1zM143 317h1v2h-1zM907 146h1v2h-1zM1269 516h1v4h-1zM919 158h1v1h-1zM1201 373h1v2h-1zM332 351h1v2h-1zM312 383h1v1h-1zM582 207h1v2h-1zM1104 203h1v1h-1zM356 298h1v5h-1zM908 148h1v1h-1zM128 302h1v1h-1zM103 364h1v7h-1zM108 329h1v7h-1zM693 169h1v1h-1zM157 346h1v3h-1zM139 311h1v2h-1zM395 246h1v2h-1zM178 388h1v1h-1zM348 323h1v2h-1zM1405 554h1v1h-1zM595 191h1v1h-1zM1158 267h1v3h-1zM189 397h1v1h-1zM1169 304h1v2h-1zM1129 232h1v1h-1zM1262 496h1v3h-1zM1272 528h1v4h-1zM307 389h1v2h-1zM1176 321h1v2h-1zM1140 246h1v2h-1zM316 375h1v2h-1zM1313 556h1v1h-1zM1197 363h1v2h-1zM190 398h1v1h-1zM1283 562h1v3h-1zM112 306h1v4h-1zM355 303h1v4h-1zM328 359h1v1h-1zM74 451h1v2h-1zM1208 389h1v2h-1zM86 426h1v2h-1zM1216 403h1v1h-1zM1276 541h1v3h-1zM590 197h1v1h-1zM196 405h1v1h-1zM399 239h1v2h-1zM614 173h1v1h-1zM1114 212h1v1h-1zM1 467h1v1h-1zM1165 293h1v3h-1zM371 274h1v2h-1zM164 362h1v3h-1zM1096 194h1v1h-1zM1266 505h1v3h-1zM344 330h1v2h-1zM1251 464h1v3h-1zM149 328h1v2h-1zM1233 428h1v1h-1zM1194 356h1v2h-1zM618 170h1v1h-1zM5 464h1v1h-1zM1183 337h1v2h-1zM107 336h1v7h-1zM1244 442h1v3h-1zM1417 532h1v1h-1zM1103 202h1v1h-1zM1255 477h1v3h-1zM85 428h1v2h-1zM97 400h1v4h-1zM1200 370h1v3h-1zM1408 549h1v2h-1zM146 322h1v2h-1zM98 395h1v5h-1zM359 285h1v5h-1zM379 265h1v1h-1zM78 443h1v2h-1zM156 344h1v2h-1zM102 371h1v7h-1zM1258 487h1v3h-1zM90 417h1v2h-1zM1271 524h1v4h-1zM167 369h1v2h-1zM1175 318h1v3h-1zM1139 245h1v1h-1zM1215 401h1v2h-1zM1110 209h1v1h-1zM253 399h1v1h-1zM1282 559h1v3h-1zM111 310h1v6h-1zM577 212h1v1h-1zM1257 483h1v4h-1zM1161 276h1v4h-1zM339 340h1v1h-1zM1143 250h1v2h-1zM1050 172h1v2h-1zM115 303h1v1h-1zM331 353h1v2h-1zM1190 349h1v2h-1zM334 347h1v2h-1zM1250 461h1v3h-1zM1193 354h1v2h-1zM326 361h1v1h-1zM1117 215h1v2h-1zM138 310h1v1h-1zM185 394h1v1h-1zM1243 440h1v2h-1zM391 252h1v1h-1zM478 229h1v1h-1zM106 343h1v7h-1zM1186 343h1v1h-1zM594 192h1v2h-1zM1261 494h1v2h-1zM1128 231h1v1h-1zM1279 550h1v3h-1zM315 377h1v2h-1zM142 316h1v1h-1zM1168 301h1v3h-1zM73 453h1v2h-1zM849 159h1v2h-1zM343 332h1v2h-1zM1254 473h1v4h-1zM398 241h1v2h-1zM1210 393h1v2h-1zM1278 547h1v3h-1zM1247 452h1v3h-1zM101 378h1v7h-1zM1296 573h1v1h-1zM166 367h1v2h-1zM1211 395h1v1h-1zM1232 427h1v1h-1zM1214 399h1v2h-1zM193 401h1v2h-1zM1164 289h1v4h-1zM1281 556h1v3h-1zM1300 570h1v1h-1zM1185 341h1v2h-1zM1207 387h1v2h-1zM417 232h1v1h-1zM199 409h1v1h-1zM374 270h1v2h-1zM134 307h1v1h-1zM394 248h1v1h-1zM141 314h1v2h-1zM1304 567h1v1h-1zM163 360h1v2h-1zM200 410h1v1h-1zM184 393h1v1h-1zM421 229h1v1h-1zM1189 347h1v2h-1zM1121 221h1v2h-1zM906 145h1v1h-1zM1412 541h1v2h-1zM1182 335h1v2h-1zM89 419h1v2h-1zM145 320h1v2h-1zM1203 377h1v3h-1zM92 413h1v2h-1zM1260 492h1v2h-1zM1268 512h1v4h-1zM467 219h1v1h-1zM910 150h1v2h-1zM1253 470h1v3h-1zM1157 265h1v2h-1zM852 154h1v2h-1zM620 168h1v1h-1zM1312 557h1v1h-1zM589 198h1v2h-1zM1178 325h1v3h-1zM609 177h1v1h-1zM318 370h1v2h-1zM1217 404h1v2h-1zM1246 449h1v3h-1zM110 316h1v7h-1zM333 349h1v2h-1zM342 334h1v3h-1zM1218 406h1v1h-1zM1142 249h1v1h-1zM1267 508h1v4h-1zM354 307h1v4h-1zM581 209h1v1h-1zM856 148h1v2h-1zM584 205h1v1h-1zM1275 538h1v3h-1zM1056 182h1v1h-1zM1192 352h1v2h-1zM381 263h1v1h-1zM198 407h1v2h-1zM77 445h1v2h-1zM1116 214h1v1h-1zM1057 183h1v1h-1zM317 372h1v3h-1zM148 326h1v2h-1zM597 189h1v1h-1zM385 260h1v1h-1zM1188 346h1v1h-1zM1160 272h1v4h-1zM119 299h1v1h-1zM1274 535h1v3h-1zM1120 220h1v1h-1zM1181 333h1v2h-1zM353 311h1v4h-1zM144 319h1v1h-1zM1170 306h1v3h-1zM1131 235h1v1h-1zM1284 565h1v2h-1zM100 385h1v6h-1zM1402 558h1v1h-1zM592 195h1v1h-1zM1163 285h1v4h-1zM155 342h1v2h-1zM1277 544h1v3h-1zM909 149h1v1h-1zM1156 263h1v2h-1zM358 290h1v4h-1zM624 165h1v1h-1zM105 350h1v7h-1zM370 276h1v1h-1zM1213 398h1v1h-1zM1221 410h1v2h-1zM7 462h1v1h-1zM1177 323h1v2h-1zM1167 298h1v3h-1zM191 399h1v1h-1zM1206 385h1v2h-1zM1235 431h1v1h-1zM1195 358h1v3h-1zM84 430h1v3h-1zM96 404h1v3h-1zM473 224h1v1h-1zM916 156h1v1h-1zM1256 480h1v3h-1zM1307 563h1v1h-1zM162 358h1v2h-1zM600 185h1v1h-1zM72 455h1v2h-1zM718 168h1v1h-1zM309 387h1v1h-1zM1249 458h1v3h-1zM1174 316h1v2h-1zM357 294h1v4h-1zM1191 351h1v1h-1zM474 225h1v1h-1zM104 357h1v7h-1zM1184 339h1v2h-1zM1202 375h1v2h-1zM147 324h1v2h-1zM1105 204h1v1h-1zM109 323h1v6h-1zM129 303h1v1h-1zM397 243h1v1h-1zM83 433h1v2h-1zM95 407h1v2h-1zM1130 233h1v2h-1zM373 272h1v1h-1zM341 337h1v2h-1zM1162 280h1v5h-1zM154 339h1v3h-1zM1199 368h1v2h-1zM1413 539h1v2h-1zM855 150h1v1h-1zM88 421h1v3h-1zM1155 260h1v3h-1zM423 227h1v1h-1zM1134 238h1v2h-1zM1259 490h1v2h-1zM1209 391h1v2h-1zM114 304h1v1h-1zM321 365h1v1h-1zM1252 467h1v3h-1zM1212 396h1v2h-1zM393 249h1v2h-1zM79 441h1v2h-1zM336 344h1v1h-1zM1224 415h1v2h-1zM1270 520h1v4h-1zM1245 445h1v4h-1zM1097 195h1v1h-1zM325 362h1v1h-1zM1205 382h1v3h-1zM1119 218h1v2h-1zM161 356h1v2h-1zM851 156h1v2h-1zM1180 330h1v3h-1zM1123 224h1v2h-1zM615 172h1v1h-1zM117 301h1v1h-1zM469 221h1v1h-1zM912 153h1v1h-1zM376 268h1v1h-1zM1198 365h1v3h-1zM576 213h1v1h-1zM915 155h1v1h-1zM169 373h1v2h-1zM1219 407h1v2h-1zM599 186h1v2h-1zM1227 420h1v2h-1zM172 379h1v1h-1zM1220 409h1v1h-1zM194 403h1v1h-1zM1173 314h1v2h-1zM82 435h1v2h-1zM1118 217h1v1h-1zM94 409h1v2h-1zM160 353h1v3h-1zM1058 184h1v1h-1zM1311 558h1v2h-1zM1122 223h1v1h-1zM1059 185h1v1h-1zM1263 499h1v2h-1zM854 151h1v2h-1zM87 424h1v2h-1zM619 169h1v1h-1zM1248 455h1v3h-1zM400 238h1v1h-1zM320 366h1v2h-1zM2 466h1v1h-1zM175 384h1v2h-1zM468 220h1v1h-1zM911 152h1v1h-1zM1306 564h1v2h-1zM1309 561h1v1h-1zM1133 237h1v1h-1zM583 206h1v1h-1zM1223 413h1v2h-1zM1299 571h1v1h-1zM168 371h1v2h-1zM1226 418h1v2h-1zM1137 242h1v2h-1zM1099 197h1v2h-1zM1166 296h1v2h-1zM153 337h1v2h-1zM396 244h1v2h-1zM308 388h1v1h-1zM1100 199h1v1h-1zM1172 312h1v2h-1zM570 217h1v1h-1zM1237 433h1v1h-1zM591 196h1v1h-1zM1404 555h1v1h-1zM1126 228h1v2h-1zM335 345h1v2h-1zM690 165h1v1h-1zM351 317h1v2h-1zM6 463h1v1h-1zM327 360h1v1h-1zM1132 236h1v1h-1zM171 377h1v2h-1zM586 202h1v1h-1zM1179 328h1v2h-1zM613 174h1v1h-1zM602 183h1v1h-1zM387 258h1v1h-1zM390 253h1v2h-1zM1416 533h1v2h-1zM1154 258h1v2h-1zM606 180h1v1h-1zM1222 412h1v1h-1zM1230 424h1v2h-1zM311 384h1v1h-1zM380 264h1v1h-1zM314 379h1v2h-1zM347 325h1v1h-1zM721 166h1v1h-1zM1236 432h1v1h-1zM1204 380h1v2h-1zM850 158h1v1h-1zM1265 503h1v2h-1zM378 266h1v1h-1zM182 391h1v1h-1zM475 226h1v1h-1zM116 302h1v1h-1zM1106 205h1v1h-1zM174 382h1v2h-1zM1125 227h1v1h-1zM338 341h1v2h-1zM1107 206h1v1h-1zM170 375h1v2h-1zM81 437h1v2h-1zM93 411h1v2h-1zM0 468h1v1h-1zM1225 417h1v1h-1zM1411 543h1v2h-1zM192 400h1v1h-1zM152 335h1v2h-1zM181 390h1v1h-1zM1229 423h1v1h-1zM1171 309h1v3h-1zM1098 196h1v1h-1zM1054 180h1v1h-1zM350 319h1v2h-1zM1407 551h1v1h-1zM1264 501h1v2h-1zM418 231h1v1h-1zM1124 226h1v1h-1zM715 170h1v1h-1zM330 355h1v2h-1zM375 269h1v1h-1zM173 380h1v2h-1zM598 188h1v1h-1zM422 228h1v1h-1zM310 385h1v2h-1zM76 447h1v2h-1zM346 326h1v2h-1zM1135 240h1v1h-1zM177 387h1v1h-1zM1196 361h1v2h-1zM151 333h1v2h-1zM1153 257h1v1h-1zM1053 178h1v2h-1zM621 167h1v1h-1zM1113 211h1v1h-1zM1239 435h1v2h-1zM853 153h1v1h-1zM1240 437h1v1h-1zM1415 535h1v2h-1zM80 439h1v2h-1zM1308 562h1v1h-1zM585 203h1v2h-1zM159 351h1v2h-1zM608 178h1v1h-1zM382 262h1v1h-1zM692 167h1v2h-1zM470 222h1v1h-1zM601 184h1v1h-1zM386 259h1v1h-1zM580 210h1v1h-1zM1228 422h1v1h-1zM569 218h1v1h-1zM1403 556h1v2h-1zM593 194h1v1h-1zM1406 552h1v2h-1zM596 190h1v1h-1zM195 404h1v1h-1zM118 300h1v1h-1zM573 215h1v1h-1zM329 357h1v2h-1zM1101 200h1v1h-1zM1238 434h1v1h-1zM588 200h1v1h-1zM1410 545h1v2h-1zM1102 201h1v1h-1zM322 364h1v1h-1zM345 328h1v2h-1zM137 309h1v1h-1zM612 175h1v1h-1zM158 349h1v2h-1zM176 386h1v1h-1zM1127 230h1v1h-1zM313 381h1v2h-1zM691 166h1v1h-1zM1108 207h1v1h-1zM188 396h1v1h-1zM349 321h1v2h-1zM1303 568h1v1h-1zM1109 208h1v1h-1zM1138 244h1v1h-1zM1052 176h1v2h-1zM165 365h1v2h-1zM377 267h1v1h-1zM1231 426h1v1h-1zM1414 537h1v2h-1zM337 343h1v1h-1zM340 339h1v1h-1zM477 228h1v1h-1zM75 449h1v2h-1zM1159 270h1v2h-1zM389 255h1v1h-1zM466 218h1v1h-1zM1287 568h1v1h-1zM132 305h1v1h-1zM133 306h1v1h-1zM1141 248h1v1h-1zM183 392h1v1h-1zM603 182h1v1h-1zM476 227h1v1h-1zM465 217h1v1h-1zM1241 438h1v1h-1zM392 251h1v1h-1zM372 273h1v1h-1zM1242 439h1v1h-1zM140 313h1v1h-1zM113 305h1v1h-1zM694 170h1v1h-1zM1136 241h1v1h-1zM695 171h1v1h-1zM1310 560h1v1h-1z" fill="#3cb371" shape-rendering="crispEdges"/>
<g shape-rendering="crispEdges">
<rect x="0" y="337" width="1651" height="1" fill="#c0c0c0"/>
<rect x="0" y="288" width="1651" height="1" fill="#ff0000"/>
<rect x="0" y="311" width="1651" height="1" fill="#ff0000"/>
<rect x="0" y="331" width="1651" height="1" fill="#32cd32"/>
<rect x="0" y="359" width="1651" height="1" fill="#0000ff"/>
<rect x="0" y="379" width="1651" height="1" fill="#0000ff"/>
<rect x="1646.5" y="286.5" width="4" height="4" fill="#fff" stroke="#ff0000" stroke-width="1"/>
<rect x="1646.5" y="309.5" width="4" height="4" fill="#fff" stroke="#ff0000" stroke-width="1"/>
<rect x="1646.5" y="329.5" width="4" height="4" fill="#fff" stroke="#32cd32" stroke-width="1"/>
<rect x="1646.5" y="357.5" width="4" height="4" fill="#fff" stroke="#0000ff" stroke-width="1"/>
<rect x="1646.5" y="377.5" width="4" height="4" fill="#fff" stroke="#0000ff" stroke-width="1"/>
</g>
<g shape-rendering="crispEdges">
<rect x="1" y="245" width="1" height="26" fill="#000"/>
<rect x="-1" y="248" width="5" height="16" fill="#000"/>
<rect x="0" y="249" width="3" height="14" fill="#fff"/>
<rect x="9" y="203" width="1" height="76" fill="#000"/>
<rect x="7" y="221" width="5" height="28" fill="#000"/>
<rect x="8" y="222" width="3" height="26" fill="#fff"/>
<rect x="17" y="174" width="1" height="48" fill="#000"/>
<rect x="15" y="196" width="5" height="26" fill="#000"/>
<rect x="16" y="197" width="3" height="24" fill="#fff"/>
<rect x="25" y="177" width="1" height="18" fill="#000"/>
<rect x="23" y="183" width="5" height="10" fill="#000"/>
<rect x="24" y="184" width="3" height="8" fill="#fff"/>
<rect x="33" y="183" width="1" height="14" fill="#000"/>
<rect x="31" y="187" width="5" height="5" fill="#000"/>
<rect x="41" y="189" width="1" height="39" fill="#000"/>
<rect x="39" y="190" width="5" height="34" fill="#000"/>
<rect x="49" y="195" width="1" height="42" fill="#000"/>
<rect x="47" y="223" width="5" height="4" fill="#000"/>
<rect x="57" y="206" width="1" height="37" fill="#000"/>
<rect x="55" y="225" width="5" height="13" fill="#000"/>
<rect x="65" y="195" width="1" height="59" fill="#000"/>
<rect x="63" y="237" width="5" height="7" fill="#000"/>
<rect x="73" y="202" width="1" height="50" fill="#000"/>
<rect x="71" y="208" width="5" height="37" fill="#000"/>
<rect x="72" y="209" width="3" height="35" fill="#fff"/>
<rect x="81" y="185" width="1" height="29" fill="#000"/>
<rect x="79" y="185" width="5" height="23" fill="#000"/>
<rect x="80" y="186" width="3" height="21" fill="#fff"/>
<rect x="89" y="173" width="1" height="19" fill="#000"/>
<rect x="87" y="178" width="5" height="7" fill="#000"/>
<rect x="88" y="179" width="3" height="5" fill="#fff"/>
<rect x="97" y="164" width="1" height="22" fill="#000"/>
<rect x="95" y="177" width="5" height="2" fill="#000"/>
<rect x="105" y="177" width="1" height="24" fill="#000"/>
<rect x="103" y="177" width="5" height="18" fill="#000"/>
<rect x="113" y="186" width="1" height="59" fill="#000"/>
<rect x="111" y="194" width="5" height="37" fill="#000"/>
<rect x="121" y="216" width="1" height="69" fill="#000"/>
<rect x="119" y="230" width="5" height="52" fill="#000"/>
<rect x="129" y="271" width="1" height="41" fill="#000"/>
<rect x="127" y="280" width="5" height="32" fill="#000"/>
<rect x="137" y="281" width="1" height="43" fill="#000"/>
<rect x="135" y="308" width="5" height="3" fill="#000"/>
<rect x="145" y="296" width="1" height="36" fill="#000"/>
<rect x="143" y="309" width="5" height="16" fill="#000"/>
<rect x="153" y="316" width="1" height="58" fill="#000"/>
<rect x="151" y="322" width="5" height="42" fill="#000"/>
<rect x="161" y="351" width="1" height="93" fill="#000"/>
<rect x="159" y="363" width="5" height="14" fill="#000"/>
<rect x="169" y="322" width="1" height="77" fill="#000"/>
<rect x="167" y="325" width="5" height="51" fill="#000"/>
<rect x="168" y="326" width="3" height="49" fill="#fff"/>
<rect x="177" y="319" width="1" height="35" fill="#000"/>
<rect x="175" y="324" width="5" height="28" fill="#000"/>
<rect x="185" y="323" width="1" height="32" fill="#000"/>
<rect x="183" y="335" width="5" height="19" fill="#000"/>
<rect x="184" y="336" width="3" height="17" fill="#fff"/>
<rect x="193" y="320" width="1" height="22" fill="#000"/>
<rect x="191" y="335" width="5" height="4" fill="#000"/>
<rect x="201" y="338" width="1" height="56" fill="#000"/>
<rect x="199" y="338" width="5" height="19" fill="#000"/>
<rect x="209" y="228" width="1" height="130" fill="#000"/>
<rect x="207" y="246" width="5" height="110" fill="#000"/>
<rect x="208" y="247" width="3" height="108" fill="#fff"/>
<rect x="217" y="232" width="1" height="52" fill="#000"/>
<rect x="215" y="246" width="5" height="26" fill="#000"/>
<rect x="225" y="252" width="1" height="26" fill="#000"/>
<rect x="223" y="254" width="5" height="15" fill="#000"/>
<rect x="224" y="255" width="3" height="13" fill="#fff"/>
<rect x="233" y="244" width="1" height="25" fill="#000"/>
<rect x="231" y="254" width="5" height="8" fill="#000"/>
<rect x="241" y="240" width="1" height="26" fill="#000"/>
<rect x="239" y="259" width="5" height="4" fill="#000"/>
<rect x="240" y="260" width="3" height="2" fill="#fff"/>
<rect x="249" y="225" width="1" height="49" fill="#000"/>
<rect x="247" y="228" width="5" height="32" fill="#000"/>
<rect x="248" y="229" width="3" height="30" fill="#fff"/>
<rect x="257" y="178" width="1" height="61" fill="#000"/>
<rect x="255" y="209" width="5" height="19" fill="#000"/>
<rect x="256" y="210" width="3" height="17" fill="#fff"/>
<rect x="265" y="206" width="1" height="50" fill="#000"/>
<rect x="263" y="210" width="5" height="26" fill="#000"/>
<rect x="273" y="225" width="1" height="10" fill="#000"/>
<rect x="271" y="225" width="5" height="10" fill="#000"/>
<rect x="272" y="226" width="3" height="8" fill="#fff"/>
<rect x="281" y="216" width="1" height="19" fill="#000"/>
<rect x="279" y="228" width="5" height="6" fill="#000"/>
<rect x="280" y="229" width="3" height="4" fill="#fff"/>
<rect x="289" y="194" width="1" height="35" fill="#000"/>
<rect x="287" y="200" width="5" height="29" fill="#000"/>
<rect x="288" y="201" width="3" height="27" fill="#fff"/>
<rect x="297" y="186" width="1" height="24" fill="#000"/>
<rect x="295" y="193" width="5" height="7" fill="#000"/>
<rect x="296" y="194" width="3" height="5" fill="#fff"/>
<rect x="305" y="194" width="1" height="18" fill="#000"/>
<rect x="303" y="194" width="5" height="14" fill="#000"/>
<rect x="313" y="168" width="1" height="44" fill="#000"/>
<rect x="311" y="184" width="5" height="24" fill="#000"/>
<rect x="312" y="185" width="3" height="22" fill="#fff"/>
<rect x="321" y="162" width="1" height="30" fill="#000"/>
<rect x="319" y="181" width="5" height="4" fill="#000"/>
<rect x="320" y="182" width="3" height="2" fill="#fff"/>
<rect x="329" y="165" width="1" height="17" fill="#000"/>
<rect x="327" y="169" width="5" height="13" fill="#000"/>
<rect x="328" y="170" width="3" height="11" fill="#fff"/>
<rect x="337" y="162" width="1" height="20" fill="#000"/>
<rect x="335" y="165" width="5" height="6" fill="#000"/>
<rect x="336" y="166" width="3" height="4" fill="#fff"/>
<rect x="345" y="147" width="1" height="23" fill="#000"/>
<rect x="343" y="164" width="5" height="3" fill="#000"/>
<rect x="344" y="165" width="3" height="1" fill="#fff"/>
<rect x="353" y="154" width="1" height="13" fill="#000"/>
<rect x="351" y="157" width="5" height="8" fill="#000"/>
<rect x="352" y="158" width="3" height="6" fill="#fff"/>
<rect x="361" y="152" width="1" height="55" fill="#000"/>
<rect x="359" y="157" width="5" height="32" fill="#000"/>
<rect x="369" y="165" width="1" height="54" fill="#000"/>
<rect x="367" y="188" width="5" height="17" fill="#000"/>
<rect x="377" y="187" width="1" height="19" fill="#000"/>
<rect x="375" y="190" width="5" height="12" fill="#000"/>
<rect x="376" y="191" width="3" height="10" fill="#fff"/>
<rect x="385" y="177" width="1" height="17" fill="#000"/>
<rect x="383" y="181" width="5" height="11" fill="#000"/>
<rect x="384" y="182" width="3" height="9" fill="#fff"/>
<rect x="393" y="170" width="1" height="23" fill="#000"/>
<rect x="391" y="181" width="5" height="1" fill="#000"/>
<rect x="401" y="165" width="1" height="24" fill="#000"/>
<rect x="399" y="182" width="5" height="7" fill="#000"/>
<rect x="409" y="177" width="1" height="40" fill="#000"/>
<rect x="407" y="187" width="5" height="2" fill="#000"/>
<rect x="417" y="183" width="1" height="30" fill="#000"/>
<rect x="415" y="188" width="5" height="14" fill="#000"/>
<rect x="425" y="192" width="1" height="17" fill="#000"/>
<rect x="423" y="201" width="5" height="4" fill="#000"/>
<rect x="433" y="201" width="1" height="24" fill="#000"/>
<rect x="431" y="203" width="5" height="5" fill="#000"/>
<rect x="441" y="204" width="1" height="28" fill="#000"/>
<rect x="439" y="207" width="5" height="8" fill="#000"/>
<rect x="449" y="185" width="1" height="32" fill="#000"/>
<rect x="447" y="186" width="5" height="28" fill="#000"/>
<rect x="448" y="187" width="3" height="26" fill="#fff"/>
<rect x="457" y="121" width="1" height="66" fill="#000"/>
<rect x="455" y="165" width="5" height="22" fill="#000"/>
<rect x="456" y="166" width="3" height="20" fill="#fff"/>
<rect x="465" y="150" width="1" height="34" fill="#000"/>
<rect x="463" y="164" width="5" height="3" fill="#000"/>
<rect x="473" y="111" width="1" height="58" fill="#000"/>
<rect x="471" y="114" width="5" height="55" fill="#000"/>
<rect x="472" y="115" width="3" height="53" fill="#fff"/>
<rect x="481" y="110" width="1" height="12" fill="#000"/>
<rect x="479" y="111" width="5" height="4" fill="#000"/>
<rect x="480" y="112" width="3" height="2" fill="#fff"/>
<rect x="489" y="110" width="1" height="17" fill="#000"/>
<rect x="487" y="111" width="5" height="4" fill="#000"/>
<rect x="497" y="104" width="1" height="15" fill="#000"/>
<rect x="495" y="114" width="5" height="5" fill="#000"/>
<rect x="505" y="110" width="1" height="34" fill="#000"/>
<rect x="503" y="116" width="5" height="12" fill="#000"/>
<rect x="513" y="118" width="1" height="24" fill="#000"/>
<rect x="511" y="128" width="5" height="11" fill="#000"/>
<rect x="521" y="126" width="1" height="11" fill="#000"/>
<rect x="519" y="132" width="5" height="5" fill="#000"/>
<rect x="520" y="133" width="3" height="3" fill="#fff"/>
<rect x="529" y="124" width="1" height="9" fill="#000"/>
<rect x="527" y="127" width="5" height="4" fill="#000"/>
<rect x="537" y="122" width="1" height="15" fill="#000"/>
<rect x="535" y="129" width="5" height="2" fill="#000"/>
<rect x="545" y="126" width="1" height="11" fill="#000"/>
<rect x="543" y="128" width="5" height="3" fill="#000"/>
<rect x="544" y="129" width="3" height="1" fill="#fff"/>
<rect x="553" y="125" width="1" height="19" fill="#000"/>
<rect x="551" y="129" width="5" height="6" fill="#000"/>
<rect x="561" y="134" width="1" height="34" fill="#000"/>
<rect x="559" y="134" width="5" height="28" fill="#000"/>
<rect x="569" y="156" width="1" height="11" fill="#000"/>
<rect x="567" y="160" width="5" height="3" fill="#000"/>
<rect x="568" y="161" width="3" height="1" fill="#fff"/>
<rect x="577" y="140" width="1" height="23" fill="#000"/>
<rect x="575" y="141" width="5" height="22" fill="#000"/>
<rect x="576" y="142" width="3" height="20" fill="#fff"/>
<rect x="585" y="133" width="1" height="17" fill="#000"/>
<rect x="583" y="138" width="5" height="4" fill="#000"/>
<rect x="584" y="139" width="3" height="2" fill="#fff"/>
<rect x="593" y="93" width="1" height="48" fill="#000"/>
<rect x="591" y="94" width="5" height="45" fill="#000"/>
<rect x="592" y="95" width="3" height="43" fill="#fff"/>
<rect x="601" y="67" width="1" height="35" fill="#000"/>
<rect x="599" y="73" width="5" height="22" fill="#000"/>
<rect x="600" y="74" width="3" height="20" fill="#fff"/>
<rect x="609" y="53" width="1" height="69" fill="#000"/>
<rect x="607" y="73" width="5" height="31" fill="#000"/>
<rect x="617" y="101" width="1" height="38" fill="#000"/>
<rect x="615" y="102" width="5" height="26" fill="#000"/>
<rect x="625" y="121" width="1" height="26" fill="#000"/>
<rect x="623" y="127" width="5" height="6" fill="#000"/>
<rect x="633" y="119" width="1" height="21" fill="#000"/>
<rect x="631" y="123" width="5" height="10" fill="#000"/>
<rect x="632" y="124" width="3" height="8" fill="#fff"/>
<rect x="641" y="113" width="1" height="27" fill="#000"/>
<rect x="639" y="123" width="5" height="7" fill="#000"/>
<rect x="649" y="111" width="1" height="23" fill="#000"/>
<rect x="647" y="119" width="5" height="12" fill="#000"/>
<rect x="648" y="120" width="3" height="10" fill="#fff"/>
<rect x="657" y="89" width="1" height="45" fill="#000"/>
<rect x="655" y="106" width="5" height="14" fill="#000"/>
<rect x="656" y="107" width="3" height="12" fill="#fff"/>
<rect x="665" y="105" width="1" height="27" fill="#000"/>
<rect x="663" y="105" width="5" height="12" fill="#000"/>
<rect x="673" y="112" width="1" height="15" fill="#000"/>
<rect x="671" y="114" width="5" height="3" fill="#000"/>
<rect x="672" y="115" width="3" height="1" fill="#fff"/>
<rect x="681" y="104" width="1" height="15" fill="#000"/>
<rect x="679" y="114" width="5" height="3" fill="#000"/>
<rect x="689" y="112" width="1" height="28" fill="#000"/>
<rect x="687" y="114" width="5" height="23" fill="#000"/>
<rect x="697" y="126" width="1" height="61" fill="#000"/>
<rect x="695" y="136" width="5" height="43" fill="#000"/>
<rect x="705" y="100" width="1" height="93" fill="#000"/>
<rect x="703" y="108" width="5" height="71" fill="#000"/>
<rect x="704" y="109" width="3" height="69" fill="#fff"/>
<rect x="713" y="100" width="1" height="29" fill="#000"/>
<rect x="711" y="107" width="5" height="20" fill="#000"/>
<rect x="721" y="115" width="1" height="19" fill="#000"/>
<rect x="719" y="124" width="5" height="8" fill="#000"/>
<rect x="729" y="116" width="1" height="35" fill="#000"/>
<rect x="727" y="118" width="5" height="13" fill="#000"/>
<rect x="728" y="119" width="3" height="11" fill="#fff"/>
<rect x="737" y="117" width="1" height="22" fill="#000"/>
<rect x="735" y="119" width="5" height="9" fill="#000"/>
<rect x="745" y="122" width="1" height="28" fill="#000"/>
<rect x="743" y="128" width="5" height="4" fill="#000"/>
<rect x="753" y="81" width="1" height="53" fill="#000"/>
<rect x="751" y="100" width="5" height="32" fill="#000"/>
<rect x="752" y="101" width="3" height="30" fill="#fff"/>
<rect x="761" y="73" width="1" height="31" fill="#000"/>
<rect x="759" y="77" width="5" height="24" fill="#000"/>
<rect x="760" y="78" width="3" height="22" fill="#fff"/>
<rect x="769" y="76" width="1" height="6" fill="#000"/>
<rect x="767" y="77" width="5" height="4" fill="#000"/>
<rect x="777" y="66" width="1" height="11" fill="#000"/>
<rect x="775" y="69" width="5" height="5" fill="#000"/>
<rect x="776" y="70" width="3" height="3" fill="#fff"/>
<rect x="785" y="67" width="1" height="25" fill="#000"/>
<rect x="783" y="69" width="5" height="15" fill="#000"/>
<rect x="793" y="78" width="1" height="24" fill="#000"/>
<rect x="791" y="83" width="5" height="2" fill="#000"/>
<rect x="801" y="59" width="1" height="31" fill="#000"/>
<rect x="799" y="62" width="5" height="22" fill="#000"/>
<rect x="800" y="63" width="3" height="20" fill="#fff"/>
<rect x="809" y="53" width="1" height="64" fill="#000"/>
<rect x="807" y="61" width="5" height="50" fill="#000"/>
<rect x="817" y="107" width="1" height="20" fill="#000"/>
<rect x="815" y="111" width="5" height="2" fill="#000"/>
<rect x="825" y="108" width="1" height="11" fill="#000"/>
<rect x="823" y="111" width="5" height="5" fill="#000"/>
<rect x="833" y="101" width="1" height="24" fill="#000"/>
<rect x="831" y="116" width="5" height="6" fill="#000"/>
<rect x="841" y="115" width="1" height="12" fill="#000"/>
<rect x="839" y="120" width="5" height="2" fill="#000"/>
<rect x="849" y="109" width="1" height="45" fill="#000"/>
<rect x="847" y="116" width="5" height="6" fill="#000"/>
<rect x="848" y="117" width="3" height="4" fill="#fff"/>
<rect x="857" y="102" width="1" height="60" fill="#000"/>
<rect x="855" y="114" width="5" height="1" fill="#000"/>
<rect x="865" y="102" width="1" height="20" fill="#000"/>
<rect x="863" y="115" width="5" height="5" fill="#000"/>
<rect x="873" y="112" width="1" height="14" fill="#000"/>
<rect x="871" y="117" width="5" height="2" fill="#000"/>
<rect x="881" y="110" width="1" height="16" fill="#000"/>
<rect x="879" y="118" width="5" height="2" fill="#000"/>
<rect x="889" y="113" width="1" height="13" fill="#000"/>
<rect x="887" y="119" width="5" height="5" fill="#000"/>
<rect x="897" y="112" width="1" height="27" fill="#000"/>
<rect x="895" y="118" width="5" height="5" fill="#000"/>
<rect x="896" y="119" width="3" height="3" fill="#fff"/>
<rect x="905" y="103" width="1" height="29" fill="#000"/>
<rect x="903" y="118" width="5" height="9" fill="#000"/>
<rect x="913" y="125" width="1" height="39" fill="#000"/>
<rect x="911" y="126" width="5" height="34" fill="#000"/>
<rect x="921" y="145" width="1" height="16" fill="#000"/>
<rect x="919" y="152" width="5" height="7" fill="#000"/>
<rect x="920" y="153" width="3" height="5" fill="#fff"/>
<rect x="929" y="144" width="1" height="12" fill="#000"/>
<rect x="927" y="145" width="5" height="8" fill="#000"/>
<rect x="928" y="146" width="3" height="6" fill="#fff"/>
<rect x="937" y="143" width="1" height="31" fill="#000"/>
<rect x="935" y="144" width="5" height="5" fill="#000"/>
<rect x="945" y="135" width="1" height="28" fill="#000"/>
<rect x="943" y="146" width="5" height="3" fill="#000"/>
<rect x="944" y="147" width="3" height="1" fill="#fff"/>
<rect x="953" y="79" width="1" height="88" fill="#000"/>
<rect x="951" y="125" width="5" height="23" fill="#000"/>
<rect x="952" y="126" width="3" height="21" fill="#fff"/>
<rect x="961" y="116" width="1" height="44" fill="#000"/>
<rect x="959" y="125" width="5" height="29" fill="#000"/>
<rect x="969" y="149" width="1" height="10" fill="#000"/>
<rect x="967" y="152" width="5" height="5" fill="#000"/>
<rect x="977" y="147" width="1" height="18" fill="#000"/>
<rect x="975" y="150" width="5" height="6" fill="#000"/>
<rect x="976" y="151" width="3" height="4" fill="#fff"/>
<rect x="985" y="146" width="1" height="14" fill="#000"/>
<rect x="983" y="149" width="5" height="3" fill="#000"/>
<rect x="993" y="123" width="1" height="31" fill="#000"/>
<rect x="991" y="133" width="5" height="18" fill="#000"/>
<rect x="992" y="134" width="3" height="16" fill="#fff"/>
<rect x="1001" y="111" width="1" height="64" fill="#000"/>
<rect x="999" y="133" width="5" height="37" fill="#000"/>
<rect x="1009" y="150" width="1" height="45" fill="#000"/>
<rect x="1007" y="152" width="5" height="18" fill="#000"/>
<rect x="1008" y="153" width="3" height="16" fill="#fff"/>
<rect x="1017" y="151" width="1" height="9" fill="#000"/>
<rect x="1015" y="152" width="5" height="5" fill="#000"/>
<rect x="1025" y="143" width="1" height="8" fill="#000"/>
<rect x="1023" y="145" width="5" height="2" fill="#000"/>
<rect x="1033" y="139" width="1" height="16" fill="#000"/>
<rect x="1031" y="144" width="5" height="3" fill="#000"/>
<rect x="1041" y="126" width="1" height="26" fill="#000"/>
<rect x="1039" y="142" width="5" height="3" fill="#000"/>
<rect x="1040" y="143" width="3" height="1" fill="#fff"/>
<rect x="1049" y="142" width="1" height="27" fill="#000"/>
<rect x="1047" y="142" width="5" height="20" fill="#000"/>
<rect x="1057" y="154" width="1" height="63" fill="#000"/>
<rect x="1055" y="160" width="5" height="51" fill="#000"/>
<rect x="1065" y="175" width="1" height="50" fill="#000"/>
<rect x="1063" y="175" width="5" height="35" fill="#000"/>
<rect x="1064" y="176" width="3" height="33" fill="#fff"/>
<rect x="1073" y="169" width="1" height="18" fill="#000"/>
<rect x="1071" y="175" width="5" height="9" fill="#000"/>
<rect x="1081" y="163" width="1" height="22" fill="#000"/>
<rect x="1079" y="165" width="5" height="20" fill="#000"/>
<rect x="1080" y="166" width="3" height="18" fill="#fff"/>
<rect x="1089" y="149" width="1" height="20" fill="#000"/>
<rect x="1087" y="163" width="5" height="4" fill="#000"/>
<rect x="1088" y="164" width="3" height="2" fill="#fff"/>
<rect x="1097" y="162" width="1" height="22" fill="#000"/>
<rect x="1095" y="163" width="5" height="10" fill="#000"/>
<rect x="1105" y="163" width="1" height="64" fill="#000"/>
<rect x="1103" y="172" width="5" height="50" fill="#000"/>
<rect x="1113" y="185" width="1" height="36" fill="#000"/>
<rect x="1111" y="201" width="5" height="20" fill="#000"/>
<rect x="1112" y="202" width="3" height="18" fill="#fff"/>
<rect x="1121" y="195" width="1" height="42" fill="#000"/>
<rect x="1119" y="203" width="5" height="30" fill="#000"/>
<rect x="1129" y="227" width="1" height="15" fill="#000"/>
<rect x="1127" y="233" width="5" height="2" fill="#000"/>
<rect x="1137" y="229" width="1" height="16" fill="#000"/>
<rect x="1135" y="234" width="5" height="11" fill="#000"/>
<rect x="1145" y="228" width="1" height="26" fill="#000"/>
<rect x="1143" y="242" width="5" height="2" fill="#000"/>
<rect x="1153" y="221" width="1" height="28" fill="#000"/>
<rect x="1151" y="233" width="5" height="10" fill="#000"/>
<rect x="1152" y="234" width="3" height="8" fill="#fff"/>
<rect x="1161" y="231" width="1" height="103" fill="#000"/>
<rect x="1159" y="233" width="5" height="72" fill="#000"/>
<rect x="1169" y="297" width="1" height="36" fill="#000"/>
<rect x="1167" y="303" width="5" height="30" fill="#000"/>
<rect x="1177" y="329" width="1" height="36" fill="#000"/>
<rect x="1175" y="331" width="5" height="2" fill="#000"/>
<rect x="1185" y="326" width="1" height="26" fill="#000"/>
<rect x="1183" y="331" width="5" height="13" fill="#000"/>
<rect x="1193" y="314" width="1" height="36" fill="#000"/>
<rect x="1191" y="331" width="5" height="13" fill="#000"/>
<rect x="1192" y="332" width="3" height="11" fill="#fff"/>
<rect x="1201" y="287" width="1" height="95" fill="#000"/>
<rect x="1199" y="331" width="5" height="49" fill="#000"/>
<rect x="1209" y="338" width="1" height="78" fill="#000"/>
<rect x="1207" y="361" width="5" height="19" fill="#000"/>
<rect x="1208" y="362" width="3" height="17" fill="#fff"/>
<rect x="1217" y="350" width="1" height="18" fill="#000"/>
<rect x="1215" y="360" width="5" height="2" fill="#000"/>
<rect x="1225" y="346" width="1" height="24" fill="#000"/>
<rect x="1223" y="352" width="5" height="8" fill="#000"/>
<rect x="1224" y="353" width="3" height="6" fill="#fff"/>
<rect x="1233" y="351" width="1" height="22" fill="#000"/>
<rect x="1231" y="352" width="5" height="21" fill="#000"/>
<rect x="1241" y="355" width="1" height="52" fill="#000"/>
<rect x="1239" y="371" width="5" height="29" fill="#000"/>
<rect x="1249" y="397" width="1" height="112" fill="#000"/>
<rect x="1247" y="398" width="5" height="73" fill="#000"/>
<rect x="1257" y="463" width="1" height="51" fill="#000"/>
<rect x="1255" y="469" width="5" height="41" fill="#000"/>
<rect x="1265" y="506" width="1" height="4" fill="#000"/>
<rect x="1263" y="507" width="5" height="3" fill="#000"/>
<rect x="1273" y="508" width="1" height="14" fill="#000"/>
<rect x="1271" y="509" width="5" height="8" fill="#000"/>
<rect x="1281" y="512" width="1" height="67" fill="#000"/>
<rect x="1279" y="516" width="5" height="53" fill="#000"/>
<rect x="1289" y="472" width="1" height="102" fill="#000"/>
<rect x="1287" y="479" width="5" height="90" fill="#000"/>
<rect x="1288" y="480" width="3" height="88" fill="#fff"/>
<rect x="1297" y="447" width="1" height="47" fill="#000"/>
<rect x="1295" y="453" width="5" height="26" fill="#000"/>
<rect x="1296" y="454" width="3" height="24" fill="#fff"/>
<rect x="1305" y="358" width="1" height="107" fill="#000"/>
<rect x="1303" y="367" width="5" height="87" fill="#000"/>
<rect x="1304" y="368" width="3" height="85" fill="#fff"/>
<rect x="1313" y="336" width="1" height="36" fill="#000"/>
<rect x="1311" y="344" width="5" height="24" fill="#000"/>
<rect x="1312" y="345" width="3" height="22" fill="#fff"/>
<rect x="1321" y="324" width="1" height="22" fill="#000"/>
<rect x="1319" y="330" width="5" height="14" fill="#000"/>
<rect x="1320" y="331" width="3" height="12" fill="#fff"/>
<rect x="1329" y="330" width="1" height="18" fill="#000"/>
<rect x="1327" y="332" width="5" height="2" fill="#000"/>
<rect x="1337" y="316" width="1" height="40" fill="#000"/>
<rect x="1335" y="330" width="5" height="22" fill="#000"/>
<rect x="1345" y="328" width="1" height="32" fill="#000"/>
<rect x="1343" y="330" width="5" height="21" fill="#000"/>
<rect x="1344" y="331" width="3" height="19" fill="#fff"/>
<rect x="1353" y="314" width="1" height="68" fill="#000"/>
<rect x="1351" y="328" width="5" height="14" fill="#000"/>
<rect x="1361" y="299" width="1" height="43" fill="#000"/>
<rect x="1359" y="324" width="5" height="18" fill="#000"/>
<rect x="1360" y="325" width="3" height="16" fill="#fff"/>
<rect x="1369" y="312" width="1" height="19" fill="#000"/>
<rect x="1367" y="316" width="5" height="15" fill="#000"/>
<rect x="1368" y="317" width="3" height="13" fill="#fff"/>
<rect x="1377" y="294" width="1" height="26" fill="#000"/>
<rect x="1375" y="298" width="5" height="19" fill="#000"/>
<rect x="1376" y="299" width="3" height="17" fill="#fff"/>
<rect x="1385" y="289" width="1" height="24" fill="#000"/>
<rect x="1383" y="302" width="5" height="7" fill="#000"/>
<rect x="1393" y="302" width="1" height="24" fill="#000"/>
<rect x="1391" y="308" width="5" height="9" fill="#000"/>
<rect x="1401" y="304" width="1" height="36" fill="#000"/>
<rect x="1399" y="316" width="5" height="15" fill="#000"/>
<rect x="1409" y="319" width="1" height="28" fill="#000"/>
<rect x="1407" y="328" width="5" height="19" fill="#000"/>
<rect x="1417" y="336" width="1" height="10" fill="#000"/>
<rect x="1415" y="337" width="5" height="9" fill="#000"/>
<rect x="1416" y="338" width="3" height="7" fill="#fff"/>
</g>
<g shape-rendering="crispEdges">
<rect x="1652" y="28" width="2" height="1" fill="#000"/>
<rect x="1652" y="61" width="2" height="1" fill="#000"/>
<rect x="1652" y="94" width="2" height="1" fill="#000"/>
<rect x="1652" y="127" width="2" height="1" fill="#000"/>
<rect x="1652" y="160" width="2" height="1" fill="#000"/>
<rect x="1652" y="193" width="2" height="1" fill="#000"/>
<rect x="1652" y="226" width="2" height="1" fill="#000"/>
<rect x="1652" y="259" width="2" height="1" fill="#000"/>
<rect x="1652" y="292" width="2" height="1" fill="#000"/>
<rect x="1652" y="325" width="2" height="1" fill="#000"/>
<rect x="1652" y="391" width="2" height="1" fill="#000"/>
<rect x="1652" y="424" width="2" height="1" fill="#000"/>
<rect x="1652" y="457" width="2" height="1" fill="#000"/>
<rect x="1652" y="490" width="2" height="1" fill="#000"/>
<rect x="1652" y="523" width="2" height="1" fill="#000"/>
<rect x="1652" y="556" width="2" height="1" fill="#000"/>
<rect x="1652" y="589" width="2" height="1" fill="#000"/>
</g>
<g style="font-family:'Liberation Sans','Noto Sans CJK SC',sans-serif;font-size:9.6px" fill="#000" stroke="#000" stroke-width="0.3">
<text x="1657" y="31.6" textLength="33" lengthAdjust="spacingAndGlyphs">34915.0</text>
<text x="1657" y="64.6" textLength="33" lengthAdjust="spacingAndGlyphs">34792.5</text>
<text x="1657" y="97.6" textLength="33" lengthAdjust="spacingAndGlyphs">34673.5</text>
<text x="1657" y="130.6" textLength="33" lengthAdjust="spacingAndGlyphs">34551.0</text>
<text x="1657" y="163.6" textLength="33" lengthAdjust="spacingAndGlyphs">34432.0</text>
<text x="1657" y="196.6" textLength="33" lengthAdjust="spacingAndGlyphs">34309.5</text>
<text x="1657" y="229.6" textLength="33" lengthAdjust="spacingAndGlyphs">34190.5</text>
<text x="1657" y="262.6" textLength="33" lengthAdjust="spacingAndGlyphs">34068.0</text>
<text x="1657" y="295.6" textLength="33" lengthAdjust="spacingAndGlyphs">33943.5</text>
<text x="1657" y="328.6" textLength="33" lengthAdjust="spacingAndGlyphs">33826.5</text>
<text x="1657" y="394.6" textLength="33" lengthAdjust="spacingAndGlyphs">33585.0</text>
<text x="1657" y="427.6" textLength="33" lengthAdjust="spacingAndGlyphs">33462.5</text>
<text x="1657" y="460.6" textLength="33" lengthAdjust="spacingAndGlyphs">33343.5</text>
<text x="1657" y="493.6" textLength="33" lengthAdjust="spacingAndGlyphs">33221.0</text>
<text x="1657" y="526.6" textLength="33" lengthAdjust="spacingAndGlyphs">33102.0</text>
<text x="1657" y="559.6" textLength="33" lengthAdjust="spacingAndGlyphs">32979.5</text>
<text x="1657" y="592.6" textLength="33" lengthAdjust="spacingAndGlyphs">32860.5</text>
<text x="1656" y="604.5" textLength="27" lengthAdjust="spacingAndGlyphs">126.12</text>
<text x="1656" y="641.5" textLength="19" lengthAdjust="spacingAndGlyphs">0.00</text>
<text x="1656" y="746.5" textLength="31" lengthAdjust="spacingAndGlyphs">-326.67</text>
<text x="1656" y="763.5" textLength="15" lengthAdjust="spacingAndGlyphs">100</text>
<text x="1656" y="791.5" textLength="10" lengthAdjust="spacingAndGlyphs">80</text>
<text x="1656" y="842.5" textLength="10" lengthAdjust="spacingAndGlyphs">50</text>
<text x="1656" y="903.5" textLength="10" lengthAdjust="spacingAndGlyphs">15</text>
<text x="1656" y="923.5" textLength="5" lengthAdjust="spacingAndGlyphs">0</text>
</g>
<g shape-rendering="crispEdges">
<rect x="1653" y="331" width="41" height="12" fill="#000"/>
<rect x="1653" y="282" width="41" height="11" fill="#ff0000"/>
<rect x="1653" y="305" width="41" height="11" fill="#ff0000"/>
<rect x="1653" y="353" width="41" height="11" fill="#0000ff"/>
<rect x="1653" y="373" width="41" height="11" fill="#0000ff"/>
<rect x="1653" y="325" width="41" height="11" fill="#32cd32"/>
</g>
<g style="font-family:'Liberation Sans','Noto Sans CJK SC',sans-serif;font-size:10.3px" fill="#fff" stroke="#fff" stroke-width="0.2">
<text x="1657" y="341" textLength="33" lengthAdjust="spacingAndGlyphs" clip-path="url(#cpb)">33784.0</text>
<text x="1657" y="291.2" textLength="33" lengthAdjust="spacingAndGlyphs">33961.8</text>
<text x="1657" y="314.2" textLength="33" lengthAdjust="spacingAndGlyphs">33877.7</text>
<text x="1657" y="362.2" textLength="33" lengthAdjust="spacingAndGlyphs">33702.1</text>
<text x="1657" y="382.2" textLength="33" lengthAdjust="spacingAndGlyphs">33629.0</text>
<text x="1657" y="334.2" textLength="33" lengthAdjust="spacingAndGlyphs">33804.5</text>
</g>
<g shape-rendering="crispEdges">
<rect x="57" y="927" width="1" height="3" fill="#000"/>
<rect x="121" y="927" width="1" height="3" fill="#000"/>
<rect x="185" y="927" width="1" height="3" fill="#000"/>
<rect x="249" y="927" width="1" height="3" fill="#000"/>
<rect x="313" y="927" width="1" height="3" fill="#000"/>
<rect x="377" y="927" width="1" height="3" fill="#000"/>
<rect x="441" y="927" width="1" height="3" fill="#000"/>
<rect x="505" y="927" width="1" height="3" fill="#000"/>
<rect x="569" y="927" width="1" height="3" fill="#000"/>
<rect x="633" y="927" width="1" height="3" fill="#000"/>
<rect x="697" y="927" width="1" height="3" fill="#000"/>
<rect x="761" y="927" width="1" height="3" fill="#000"/>
<rect x="825" y="927" width="1" height="3" fill="#000"/>
<rect x="889" y="927" width="1" height="3" fill="#000"/>
<rect x="953" y="927" width="1" height="3" fill="#000"/>
<rect x="1017" y="927" width="1" height="3" fill="#000"/>
<rect x="1081" y="927" width="1" height="3" fill="#000"/>
<rect x="1145" y="927" width="1" height="3" fill="#000"/>
<rect x="1209" y="927" width="1" height="3" fill="#000"/>
<rect x="1273" y="927" width="1" height="3" fill="#000"/>
<rect x="1337" y="927" width="1" height="3" fill="#000"/>
<rect x="1401" y="927" width="1" height="3" fill="#000"/>
</g>
<g style="font-family:'Liberation Sans','Noto Sans CJK SC',sans-serif;font-size:9.6px" fill="#000" stroke="#000" stroke-width="0.3">
<text x="-7" y="939" textLength="53" lengthAdjust="spacingAndGlyphs">14 May 2021</text>
<text x="57" y="939" textLength="57" lengthAdjust="spacingAndGlyphs">17 May 08:00</text>
<text x="121" y="939" textLength="57" lengthAdjust="spacingAndGlyphs">18 May 16:00</text>
<text x="185" y="939" textLength="57" lengthAdjust="spacingAndGlyphs">20 May 00:00</text>
<text x="249" y="939" textLength="57" lengthAdjust="spacingAndGlyphs">21 May 08:00</text>
<text x="313" y="939" textLength="57" lengthAdjust="spacingAndGlyphs">24 May 12:00</text>
<text x="377" y="939" textLength="57" lengthAdjust="spacingAndGlyphs">25 May 20:00</text>
<text x="441" y="939" textLength="57" lengthAdjust="spacingAndGlyphs">27 May 04:00</text>
<text x="505" y="939" textLength="57" lengthAdjust="spacingAndGlyphs">28 May 12:00</text>
<text x="569" y="939" textLength="57" lengthAdjust="spacingAndGlyphs">31 May 16:00</text>
<text x="633" y="939" textLength="47" lengthAdjust="spacingAndGlyphs">2 Jun 00:00</text>
<text x="697" y="939" textLength="47" lengthAdjust="spacingAndGlyphs">3 Jun 08:00</text>
<text x="761" y="939" textLength="47" lengthAdjust="spacingAndGlyphs">4 Jun 16:00</text>
<text x="825" y="939" textLength="47" lengthAdjust="spacingAndGlyphs">7 Jun 20:00</text>
<text x="889" y="939" textLength="47" lengthAdjust="spacingAndGlyphs">9 Jun 04:00</text>
<text x="953" y="939" textLength="52" lengthAdjust="spacingAndGlyphs">10 Jun 12:00</text>
<text x="1017" y="939" textLength="52" lengthAdjust="spacingAndGlyphs">11 Jun 20:00</text>
<text x="1081" y="939" textLength="52" lengthAdjust="spacingAndGlyphs">15 Jun 00:00</text>
<text x="1145" y="939" textLength="52" lengthAdjust="spacingAndGlyphs">16 Jun 08:00</text>
<text x="1209" y="939" textLength="52" lengthAdjust="spacingAndGlyphs">17 Jun 16:00</text>
<text x="1273" y="939" textLength="52" lengthAdjust="spacingAndGlyphs">20 Jun 23:00</text>
<text x="1337" y="939" textLength="52" lengthAdjust="spacingAndGlyphs">22 Jun 04:00</text>
<text x="1401" y="939" textLength="52" lengthAdjust="spacingAndGlyphs">23 Jun 12:00</text>
</g>
<g style="font-family:'Liberation Sans','Noto Sans CJK SC',sans-serif;font-size:9.6px" fill="#000" stroke="#000" stroke-width="0.3">
<text x="8" y="36.7" textLength="186" lengthAdjust="spacingAndGlyphs">DJ30-,H4  33754.0 33788.0 33752.0 33784.0</text>
<text x="-1" y="607" textLength="114" lengthAdjust="spacingAndGlyphs">MACD(12,26,9) 17.04 -1.23</text>
<text x="-1" y="765" textLength="66" lengthAdjust="spacingAndGlyphs">RSI(14) 51.3187</text>
</g>
<path d="M0 36 L0 33 L3 36 Z" fill="#000"/>
<path d="M1412.5 26 L1422.5 26 L1417.5 31 Z" fill="#c0c0c0"/>
<g shape-rendering="crispEdges">
<rect x="152" y="443" width="10" height="1" fill="#ff0000"/>
<rect x="800" y="53" width="10" height="1" fill="#ff0000"/>
<rect x="1272" y="578" width="10" height="1" fill="#ff0000"/>
<rect x="1034" y="331" width="10" height="1" fill="#ff0000"/>
</g>
<rect x="90.5" y="434.5" width="61" height="18" fill="#fff" stroke="#ff0000" stroke-width="1" shape-rendering="crispEdges"/>
<text x="92.2" y="450" textLength="58.6" lengthAdjust="spacingAndGlyphs" style="font-family:'Liberation Sans','Noto Sans CJK SC',sans-serif;font-size:17px" fill="#ff0000">33394.9</text>
<rect x="738.5" y="44.5" width="61" height="18" fill="#fff" stroke="#ff0000" stroke-width="1" shape-rendering="crispEdges"/>
<text x="740.2" y="60" textLength="58.6" lengthAdjust="spacingAndGlyphs" style="font-family:'Liberation Sans','Noto Sans CJK SC',sans-serif;font-size:17px" fill="#ff0000">34821.6</text>
<rect x="1210.5" y="569.5" width="61" height="18" fill="#fff" stroke="#ff0000" stroke-width="1" shape-rendering="crispEdges"/>
<text x="1212.2" y="585" textLength="58.6" lengthAdjust="spacingAndGlyphs" style="font-family:'Liberation Sans','Noto Sans CJK SC',sans-serif;font-size:17px" fill="#ff0000">32899.8</text>
<rect x="1314.5" y="279.5" width="61" height="18" fill="#fff" stroke="#ff0000" stroke-width="1" shape-rendering="crispEdges"/>
<text x="1316.2" y="295" textLength="58.6" lengthAdjust="spacingAndGlyphs" style="font-family:'Liberation Sans','Noto Sans CJK SC',sans-serif;font-size:17px" fill="#ff0000">33961.8</text>
<rect x="1376.5" y="286.5" width="2" height="3" fill="#fff" stroke="#ff0000" shape-rendering="crispEdges"/>
<rect x="1044.5" y="319.5" width="73" height="24" fill="#fff" stroke="#ff0000" stroke-width="1" shape-rendering="crispEdges"/>
<text x="1046" y="340" textLength="70.5" lengthAdjust="spacingAndGlyphs" style="font-family:'Liberation Sans','Noto Sans CJK SC',sans-serif;font-size:22.2px" fill="#ff0000">33804.5</text>
<rect x="1490.5" y="306.5" width="110" height="24" fill="none" stroke="#404040" stroke-width="1" shape-rendering="crispEdges"/>
<text x="1491.5" y="325.3" textLength="106.5" lengthAdjust="spacing" style="font-family:'Liberation Serif','Noto Serif CJK SC',serif;font-size:19.6px;font-weight:300" fill="#00ff00">多空转折点</text>
<rect x="1543.5" y="304.5" width="2" height="2" fill="#fff" stroke="#00ff00" stroke-width="1" shape-rendering="crispEdges"/>
<line x1="1159" y1="243" x2="1283" y2="561" stroke="#ff0000" stroke-width="3" stroke-linecap="butt"/>
<path d="M1283.0 561.0 L1275.5 554.2 L1283.9 551.0 Z" fill="#ff0000"/>
<line x1="1286.5" y1="567" x2="1378.8" y2="293" stroke="#ff0000" stroke-width="3" stroke-linecap="butt"/>
<path d="M1378.8 293.0 L1380.2 303.0 L1371.7 300.1 Z" fill="#ff0000"/>
<line x1="1380" y1="294" x2="1427.5" y2="357" stroke="#ff0000" stroke-width="3" stroke-linecap="butt"/>
<path d="M1427.5 357.0 L1418.5 352.5 L1425.7 347.1 Z" fill="#ff0000"/>
<line x1="1293" y1="725" x2="1384" y2="633" stroke="#ff0000" stroke-width="3" stroke-linecap="butt"/>
<path d="M1384.0 633.0 L1380.9 642.6 L1374.5 636.2 Z" fill="#ff0000"/>
<line x1="1383" y1="632.7" x2="1419" y2="632.7" stroke="#ff0000" stroke-width="3" stroke-linecap="butt"/>
<path d="M1419.0 632.7 L1410.0 637.2 L1410.0 628.2 Z" fill="#ff0000"/>
<line x1="1267" y1="900" x2="1321.5" y2="824" stroke="#ff0000" stroke-width="3" stroke-linecap="butt"/>
<path d="M1321.5 824.0 L1319.9 833.9 L1312.6 828.7 Z" fill="#ff0000"/>
<line x1="1320" y1="824.5" x2="1418" y2="828.3" stroke="#ff0000" stroke-width="3" stroke-linecap="butt"/>
<path d="M1418.0 828.3 L1408.8 832.4 L1409.2 823.5 Z" fill="#ff0000"/>
<rect x="1289" y="325" width="176" height="11" fill="#00ff00" shape-rendering="crispEdges"/>
<defs>
<linearGradient id="gb" x1="0" y1="0" x2="0" y2="1"><stop offset="0" stop-color="#f85252"/><stop offset="1" stop-color="#d92f2f"/></linearGradient>
<linearGradient id="gp" x1="0" y1="0" x2="0" y2="1"><stop offset="0" stop-color="#dc2b2b"/><stop offset="0.9" stop-color="#b40606"/><stop offset="1" stop-color="#a80000"/></linearGradient>
<linearGradient id="gv" x1="0" y1="0" x2="0" y2="1"><stop offset="0" stop-color="#f4f4f4"/><stop offset="0.45" stop-color="#e6e6e6"/><stop offset="0.5" stop-color="#d6d6d6"/><stop offset="1" stop-color="#d0d0d0"/></linearGradient>
</defs>
<g shape-rendering="crispEdges">
<rect x="0" y="44" width="217" height="60" fill="#fff"/>
<rect x="0" y="45" width="48" height="24" fill="url(#gb)"/>
<rect x="163" y="45" width="52" height="24" fill="url(#gb)"/>
<rect x="0" y="45" width="48" height="1" fill="#d03030"/>
<rect x="163" y="45" width="52" height="1" fill="#d03030"/>
<rect x="47" y="45" width="1" height="24" fill="#d02828"/>
<rect x="163" y="45" width="1" height="24" fill="#d02828"/>
<rect x="0" y="69" width="105" height="33" fill="url(#gp)"/>
<rect x="107" y="69" width="108" height="33" fill="url(#gp)"/>
<rect x="0" y="68" width="44" height="1" fill="#a80808"/>
<rect x="167" y="68" width="44" height="1" fill="#a80808"/>
<rect x="0" y="69" width="44" height="1" fill="#ee5a5a"/>
<rect x="167" y="69" width="44" height="1" fill="#ee5a5a"/>
<rect x="104" y="69" width="1" height="33" fill="#a80808"/>
<rect x="214" y="45" width="1" height="57" fill="#b01010"/>
<rect x="50.5" y="45.5" width="110" height="21" fill="#fff" stroke="#a4a6ae"/>
<rect x="52" y="47" width="19" height="19" fill="url(#gv)"/>
<rect x="140" y="47" width="20" height="19" fill="url(#gv)"/>
<rect x="71" y="46" width="1" height="20" fill="#a4a6ae"/>
<rect x="139" y="46" width="1" height="20" fill="#a4a6ae"/>
</g>
<path d="M58 54 L64 54 L61 57.2 Z" fill="#4352c4"/>
<path d="M146.5 57.5 L152.5 57.5 L149.5 54.2 Z" fill="#4352c4"/>
<g style="font-family:'Liberation Sans','Noto Sans CJK SC',sans-serif" fill="#fff">
<text x="8" y="60.7" font-size="13" textLength="26" lengthAdjust="spacingAndGlyphs">SELL</text>
<text x="176" y="60.7" font-size="13" textLength="23.5" lengthAdjust="spacingAndGlyphs">BUY</text>
<text x="12.5" y="97" font-size="12.5" font-weight="bold" textLength="34" lengthAdjust="spacing">33782</text>
<text x="122.5" y="97" font-size="12.5" font-weight="bold" textLength="34" lengthAdjust="spacing">33791</text>
<text x="58.8" y="97" font-size="34" textLength="15.6" lengthAdjust="spacingAndGlyphs">5</text>
<text x="169.5" y="97" font-size="34" textLength="15.6" lengthAdjust="spacingAndGlyphs">5</text>
</g>
<rect x="51.5" y="93.5" width="4" height="3.7" fill="#fff"/>
<rect x="162" y="93.5" width="4" height="3.7" fill="#fff"/>
<text x="112.5" y="59.7" font-size="13.5" style="font-family:'Liberation Sans','Noto Sans CJK SC',sans-serif" fill="#000" textLength="23.5" lengthAdjust="spacingAndGlyphs">1.00</text>
</svg>
</body></html>
